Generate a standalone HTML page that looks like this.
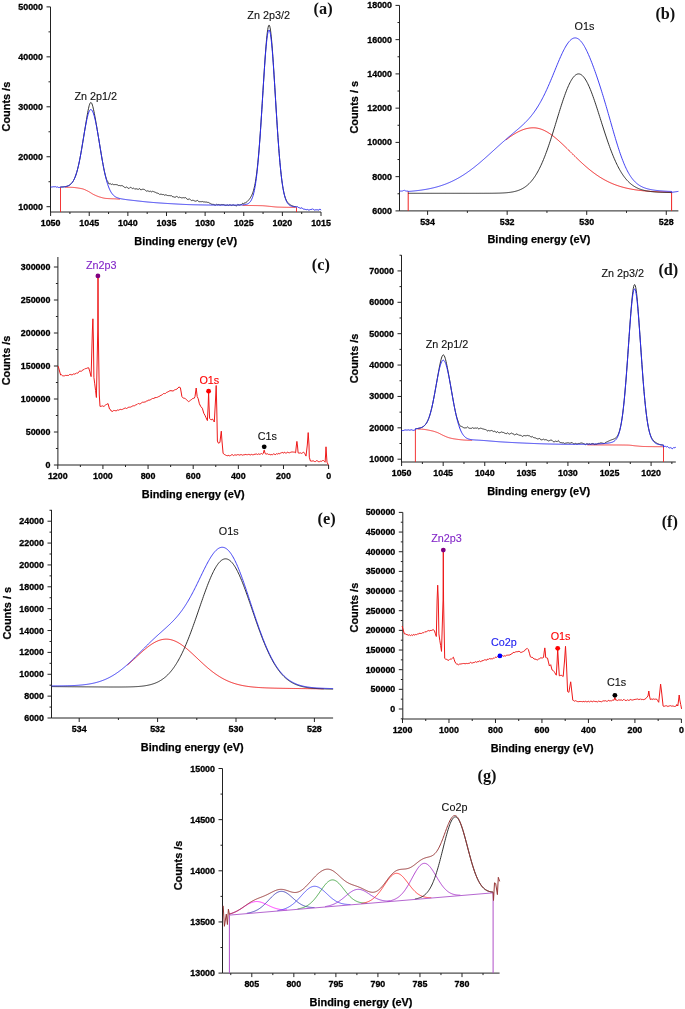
<!DOCTYPE html>
<html><head><meta charset="utf-8"><style>
html,body{margin:0;padding:0;background:#fff;}
svg{display:block;filter:blur(0.3px);}
.tk{font-family:"Liberation Sans",sans-serif;font-weight:bold;font-size:8.9px;fill:#000;stroke:#000;stroke-width:0.3px;}
.ti{font-family:"Liberation Sans",sans-serif;font-weight:bold;font-size:10.9px;fill:#000;stroke:#000;stroke-width:0.25px;}
.pk{font-family:"Liberation Sans",sans-serif;font-size:10.8px;fill:#111;stroke:#111;stroke-width:0.12px;}
.pl{font-family:"Liberation Serif",serif;font-weight:bold;font-size:16.3px;fill:#111;}
</style></head><body>
<svg width="685" height="1009" viewBox="0 0 685 1009">
<rect width="685" height="1009" fill="#fff"/>
<path d="M50.5,6.9 V212 H321" stroke="#222" stroke-width="1" fill="none"/>
<path d="M50.60,212 V216 M89.23,212 V216 M127.86,212 V216 M166.49,212 V216 M205.12,212 V216 M243.75,212 V216 M282.38,212 V216 M321.01,212 V216 M69.92,212 V214 M108.55,212 V214 M147.18,212 V214 M185.81,212 V214 M224.44,212 V214 M263.06,212 V214 M301.69,212 V214 M46.5,206.70 H50.5 M46.5,156.75 H50.5 M46.5,106.80 H50.5 M46.5,56.85 H50.5 M46.5,6.90 H50.5 M48.5,181.72 H50.5 M48.5,131.77 H50.5 M48.5,81.82 H50.5 M48.5,31.87 H50.5" stroke="#222" stroke-width="1" fill="none"/>
<text x="50.60" y="226" class="tk" text-anchor="middle">1050</text>
<text x="89.23" y="226" class="tk" text-anchor="middle">1045</text>
<text x="127.86" y="226" class="tk" text-anchor="middle">1040</text>
<text x="166.49" y="226" class="tk" text-anchor="middle">1035</text>
<text x="205.12" y="226" class="tk" text-anchor="middle">1030</text>
<text x="243.75" y="226" class="tk" text-anchor="middle">1025</text>
<text x="282.38" y="226" class="tk" text-anchor="middle">1020</text>
<text x="321.01" y="226" class="tk" text-anchor="middle">1015</text>
<text x="43.00" y="209.70" class="tk" text-anchor="end">10000</text>
<text x="43.00" y="159.75" class="tk" text-anchor="end">20000</text>
<text x="43.00" y="109.80" class="tk" text-anchor="end">30000</text>
<text x="43.00" y="59.85" class="tk" text-anchor="end">40000</text>
<text x="43.00" y="9.90" class="tk" text-anchor="end">50000</text>
<text x="185.75" y="244.5" class="ti" text-anchor="middle">Binding energy (eV)</text>
<text transform="translate(9.9,106.6) rotate(-90)" x="0" y="0" class="ti" text-anchor="middle">Counts /s</text>
<path d="M65.23,187.30 L65.62,187.30 L66.02,187.30 L66.41,187.30 L66.80,187.30 L67.20,187.30 L67.59,187.30 L67.99,187.30 L68.38,187.30 L68.77,187.30 L69.17,187.30 L69.56,187.30 L69.96,187.30 L70.35,187.30 L70.74,187.31 L71.14,187.32 L71.53,187.33 L71.93,187.35 L72.32,187.37 L72.71,187.39 L73.11,187.42 L73.50,187.45 L73.90,187.48 L74.29,187.52 L74.68,187.56 L75.08,187.61 L75.47,187.65 L75.87,187.70 L76.26,187.75 L76.65,187.80 L77.05,187.86 L77.44,187.92 L77.84,187.98 L78.23,188.04 L78.62,188.11 L79.02,188.17 L79.41,188.24 L79.81,188.31 L80.20,188.38 L80.59,188.45 L80.99,188.53 L81.38,188.60 L81.78,188.68 L82.17,188.76 L82.56,188.85 L82.96,188.97 L83.35,189.10 L83.75,189.24 L84.14,189.39 L84.53,189.55 L84.93,189.72 L85.32,189.90 L85.72,190.09 L86.11,190.28 L86.50,190.47 L86.90,190.66 L87.29,190.85 L87.69,191.04 L88.08,191.24 L88.47,191.44 L88.87,191.66 L89.26,191.89 L89.66,192.13 L90.05,192.38 L90.44,192.62 L90.84,192.87 L91.23,193.12 L91.63,193.37 L92.02,193.61 L92.41,193.85 L92.81,194.08 L93.20,194.30 L93.60,194.50 L93.99,194.69 L94.38,194.88 L94.78,195.06 L95.17,195.24 L95.57,195.42 L95.96,195.60 L96.35,195.77 L96.75,195.93 L97.14,196.09 L97.54,196.25 L97.93,196.40 L98.32,196.55 L98.72,196.69 L99.11,196.82 L99.51,196.94 L99.90,197.06 L100.29,197.18 L100.69,197.29 L101.08,197.41 L101.47,197.52 L101.87,197.63 L102.26,197.74 L102.66,197.84 L103.05,197.94 L103.44,198.03 L103.84,198.12 L104.23,198.20 L104.63,198.26 L105.02,198.32 L105.41,198.37 L105.81,198.41 L106.20,198.44 L106.60,198.47 L106.99,198.50 L107.38,198.53 L107.78,198.55 L108.17,198.58 L108.57,198.60 L108.96,198.62 L109.35,198.64 L109.75,198.66 L110.14,198.67 L110.54,198.69 L110.93,198.71 L111.32,198.72 L111.72,198.74 L112.11,198.75 L112.51,198.76 L112.90,198.78 L113.29,198.79 L113.69,198.81 L114.08,198.82 L114.48,198.84 L114.87,198.85 L115.26,198.87 L115.66,198.89 L116.05,198.91 L116.45,198.93 L116.84,198.95 L117.23,198.98 L117.63,199.00 L118.02,199.03 L118.42,199.06 L118.81,199.09 L119.20,199.12 L119.60,199.15 L119.99,199.19" stroke="#f02020" stroke-width="0.9" fill="none" stroke-linejoin="round"/>
<path d="M242.52,205.45 L242.92,205.45 L243.31,205.46 L243.71,205.46 L244.10,205.46 L244.49,205.46 L244.89,205.46 L245.28,205.47 L245.68,205.47 L246.07,205.47 L246.46,205.47 L246.86,205.48 L247.25,205.48 L247.65,205.48 L248.04,205.48 L248.43,205.49 L248.83,205.49 L249.22,205.49 L249.62,205.50 L250.01,205.50 L250.40,205.50 L250.80,205.51 L251.19,205.51 L251.59,205.51 L251.98,205.52 L252.37,205.52 L252.77,205.53 L253.16,205.53 L253.56,205.54 L253.95,205.54 L254.34,205.55 L254.74,205.55 L255.13,205.56 L255.53,205.56 L255.92,205.57 L256.31,205.57 L256.71,205.58 L257.10,205.59 L257.49,205.59 L257.89,205.60 L258.28,205.61 L258.68,205.62 L259.07,205.63 L259.46,205.63 L259.86,205.64 L260.25,205.65 L260.65,205.66 L261.04,205.67 L261.43,205.68 L261.83,205.70 L262.22,205.71 L262.62,205.72 L263.01,205.74 L263.40,205.77 L263.80,205.79 L264.19,205.82 L264.59,205.86 L264.98,205.89 L265.37,205.93 L265.77,205.97 L266.16,206.01 L266.56,206.05 L266.95,206.09 L267.34,206.13 L267.74,206.18 L268.13,206.22 L268.53,206.26 L268.92,206.30 L269.31,206.34 L269.71,206.37 L270.10,206.41 L270.50,206.45 L270.89,206.48 L271.28,206.52 L271.68,206.56 L272.07,206.60 L272.47,206.65 L272.86,206.69 L273.25,206.73 L273.65,206.77 L274.04,206.81 L274.44,206.85 L274.83,206.89 L275.22,206.93 L275.62,206.96 L276.01,206.99 L276.41,207.02 L276.80,207.04 L277.19,207.07 L277.59,207.09 L277.98,207.10 L278.38,207.11 L278.77,207.12 L279.16,207.13 L279.56,207.15 L279.95,207.16 L280.35,207.17 L280.74,207.18 L281.13,207.19 L281.53,207.20 L281.92,207.21 L282.32,207.22 L282.71,207.23 L283.10,207.24 L283.50,207.25 L283.89,207.25 L284.29,207.26 L284.68,207.27 L285.07,207.28 L285.47,207.29 L285.86,207.29 L286.26,207.30 L286.65,207.31 L287.04,207.32 L287.44,207.32 L287.83,207.33 L288.23,207.34 L288.62,207.34 L289.01,207.35 L289.41,207.35 L289.80,207.36 L290.20,207.36 L290.59,207.37 L290.98,207.37 L291.38,207.37 L291.77,207.38 L292.17,207.38 L292.56,207.38 L292.95,207.39 L293.35,207.39 L293.74,207.39 L294.14,207.39 L294.53,207.40 L294.92,207.40 L295.32,207.40" stroke="#f02020" stroke-width="0.9" fill="none" stroke-linejoin="round"/>
<path d="M60.50,212.00 L60.50,187.30" stroke="#f02020" stroke-width="0.9" fill="none" stroke-linejoin="round"/>
<path d="M296.50,212.00 L296.50,207.40" stroke="#f02020" stroke-width="0.9" fill="none" stroke-linejoin="round"/>
<path d="M60.50,187.04 L60.89,187.03 L61.29,187.01 L61.68,186.99 L62.08,186.97 L62.47,186.95 L62.86,186.92 L63.26,186.89 L63.65,186.86 L64.05,186.82 L64.44,186.77 L64.83,186.72 L65.23,186.66 L65.62,186.59 L66.02,186.51 L66.41,186.42 L66.80,186.31 L67.20,186.19 L67.59,186.06 L67.99,185.91 L68.38,185.73 L68.77,185.54 L69.17,185.32 L69.56,185.07 L69.96,184.79 L70.35,184.48 L70.74,184.13 L71.14,183.75 L71.53,183.33 L71.93,182.87 L72.32,182.36 L72.71,181.80 L73.11,181.18 L73.50,180.51 L73.90,179.77 L74.29,178.97 L74.68,178.09 L75.08,177.15 L75.47,176.12 L75.87,175.02 L76.26,173.83 L76.65,172.56 L77.05,171.20 L77.44,169.75 L77.84,168.21 L78.23,166.59 L78.62,164.87 L79.02,163.07 L79.41,161.18 L79.81,159.21 L80.20,157.16 L80.59,155.04 L80.99,152.85 L81.38,150.59 L81.78,148.28 L82.17,145.92 L82.56,143.54 L82.96,141.13 L83.35,138.72 L83.75,136.29 L84.14,133.86 L84.53,131.44 L84.93,129.01 L85.32,126.60 L85.72,124.19 L86.11,121.81 L86.50,119.45 L86.90,117.12 L87.29,114.85 L87.69,112.65 L88.08,110.57 L88.47,108.64 L88.87,106.91 L89.26,105.41 L89.66,104.19 L90.05,103.28 L90.44,102.71 L90.84,102.51 L91.23,102.67 L91.63,103.18 L92.02,104.01 L92.41,105.12 L92.81,106.49 L93.20,108.06 L93.60,109.81 L93.99,111.69 L94.38,113.69 L94.78,115.77 L95.17,117.92 L95.57,120.13 L95.96,122.37 L96.35,124.64 L96.75,126.94 L97.14,129.27 L97.54,131.63 L97.93,134.01 L98.32,136.40 L98.72,138.81 L99.11,141.23 L99.51,143.66 L99.90,146.07 L100.29,148.49 L100.69,150.89 L101.08,153.27 L101.47,155.62 L101.87,157.93 L102.26,160.20 L102.66,162.41 L103.05,164.57 L103.44,166.67 L103.84,168.69 L104.23,170.63 L104.63,172.41 L105.02,174.04 L105.41,175.55 L105.81,176.95 L106.20,178.27 L106.60,179.53 L106.99,180.42 L107.38,181.05 L107.78,181.61 L108.17,182.51 L108.57,183.39 L108.96,183.99 L109.35,183.84 L109.75,183.76 L110.14,183.49 L110.54,183.86 L110.93,184.18 L111.32,184.46 L111.72,184.32 L112.11,184.02 L112.51,184.04 L112.90,184.35 L113.29,184.52 L113.69,184.65 L114.08,184.61 L114.48,184.57 L114.87,184.76 L115.26,184.69 L115.66,184.54 L116.05,184.59 L116.45,184.60 L116.84,184.80 L117.23,184.74 L117.63,185.02 L118.02,185.23 L118.42,185.49 L118.81,185.59 L119.20,185.52 L119.60,185.52 L119.99,185.77 L120.39,185.76 L120.78,185.78 L121.17,185.78 L121.57,185.58 L121.96,185.41 L122.36,185.70 L122.75,185.90 L123.14,186.12 L123.54,186.51 L123.93,186.97 L124.33,187.21 L124.72,187.40 L125.11,187.48 L125.51,187.63 L125.90,187.36 L126.30,187.11 L126.69,186.85 L127.08,187.30 L127.48,187.71 L127.87,188.02 L128.27,188.26 L128.66,188.39 L129.05,188.40 L129.45,187.97 L129.84,187.68 L130.24,187.40 L130.63,187.47 L131.02,187.68 L131.42,187.74 L131.81,188.14 L132.21,188.27 L132.60,188.66 L132.99,188.58 L133.39,188.27 L133.78,188.13 L134.18,188.47 L134.57,188.83 L134.96,189.25 L135.36,188.96 L135.75,188.75 L136.15,188.62 L136.54,188.87 L136.93,189.06 L137.33,189.19 L137.72,189.19 L138.12,189.35 L138.51,189.26 L138.90,189.07 L139.30,188.72 L139.69,188.58 L140.09,189.19 L140.48,189.47 L140.87,190.01 L141.27,189.85 L141.66,189.50 L142.06,189.38 L142.45,189.27 L142.84,189.31 L143.24,189.29 L143.63,189.30 L144.03,189.39 L144.42,189.52 L144.81,189.79 L145.21,190.14 L145.60,190.51 L146.00,190.84 L146.39,191.14 L146.78,191.11 L147.18,191.04 L147.57,190.80 L147.97,190.69 L148.36,191.05 L148.75,191.33 L149.15,191.70 L149.54,191.42 L149.94,191.26 L150.33,191.13 L150.72,191.44 L151.12,191.62 L151.51,191.92 L151.91,191.69 L152.30,191.47 L152.69,191.06 L153.09,191.23 L153.48,191.62 L153.88,191.87 L154.27,191.99 L154.66,191.98 L155.06,192.03 L155.45,192.38 L155.85,192.57 L156.24,192.86 L156.63,192.91 L157.03,193.01 L157.42,193.14 L157.82,193.26 L158.21,193.46 L158.60,193.57 L159.00,193.89 L159.39,194.25 L159.79,194.51 L160.18,194.33 L160.57,194.22 L160.97,194.07 L161.36,194.24 L161.76,194.38 L162.15,194.50 L162.54,194.57 L162.94,194.49 L163.33,194.50 L163.73,194.62 L164.12,194.92 L164.51,195.22 L164.91,195.16 L165.30,195.00 L165.70,194.78 L166.09,194.89 L166.48,195.07 L166.88,195.28 L167.27,195.43 L167.67,195.54 L168.06,195.63 L168.45,195.62 L168.85,195.51 L169.24,195.53 L169.64,195.63 L170.03,195.61 L170.42,195.75 L170.82,195.74 L171.21,195.82 L171.61,195.68 L172.00,196.07 L172.39,196.40 L172.79,196.95 L173.18,196.88 L173.58,196.80 L173.97,196.89 L174.36,197.14 L174.76,197.25 L175.15,197.30 L175.55,197.12 L175.94,196.74 L176.33,196.33 L176.73,196.44 L177.12,196.56 L177.52,196.84 L177.91,197.12 L178.30,197.51 L178.70,197.73 L179.09,197.49 L179.48,197.21 L179.88,196.96 L180.27,197.34 L180.67,197.62 L181.06,197.91 L181.45,197.83 L181.85,197.82 L182.24,197.81 L182.64,197.78 L183.03,197.74 L183.42,197.66 L183.82,197.69 L184.21,197.74 L184.61,197.88 L185.00,197.71 L185.39,197.65 L185.79,197.70 L186.18,198.08 L186.58,198.58 L186.97,199.16 L187.36,199.32 L187.76,199.49 L188.15,199.62 L188.55,199.26 L188.94,198.99 L189.33,198.81 L189.73,199.19 L190.12,199.46 L190.52,199.88 L190.91,200.13 L191.30,200.37 L191.70,200.64 L192.09,200.51 L192.49,200.33 L192.88,200.08 L193.27,200.27 L193.67,200.47 L194.06,200.65 L194.46,200.86 L194.85,200.99 L195.24,201.21 L195.64,201.13 L196.03,201.08 L196.43,200.92 L196.82,200.65 L197.21,200.49 L197.61,200.38 L198.00,200.86 L198.40,201.34 L198.79,201.72 L199.18,201.75 L199.58,201.68 L199.97,201.78 L200.37,201.65 L200.76,201.69 L201.15,201.66 L201.55,201.68 L201.94,201.68 L202.34,201.50 L202.73,201.63 L203.12,201.75 L203.52,201.93 L203.91,201.93 L204.31,201.92 L204.70,201.95 L205.09,201.99 L205.49,202.12 L205.88,201.94 L206.28,202.07 L206.67,202.09 L207.06,202.29 L207.46,202.39 L207.85,202.33 L208.25,202.33 L208.64,202.54 L209.03,202.81 L209.43,203.05 L209.82,203.32 L210.22,203.47 L210.61,203.38 L211.00,203.78 L211.40,204.12 L211.79,204.35 L212.19,204.33 L212.58,204.37 L212.97,204.39 L213.37,204.42 L213.76,204.41 L214.16,204.49 L214.55,204.84 L214.94,205.17 L215.34,205.25 L215.73,204.87 L216.13,204.57 L216.52,204.17 L216.91,204.46 L217.31,204.65 L217.70,204.74 L218.10,204.60 L218.49,204.54 L218.88,204.48 L219.28,204.64 L219.67,204.91 L220.07,205.13 L220.46,204.92 L220.85,204.82 L221.25,204.59 L221.64,204.63 L222.04,204.60 L222.43,204.65 L222.82,204.55 L223.22,204.64 L223.61,204.62 L224.01,204.86 L224.40,204.97 L224.79,205.11 L225.19,205.20 L225.58,205.39 L225.98,205.65 L226.37,205.37 L226.76,205.05 L227.16,204.83 L227.55,205.09 L227.95,205.26 L228.34,205.47 L228.73,205.31 L229.13,205.15 L229.52,204.86 L229.92,204.96 L230.31,205.02 L230.70,205.06 L231.10,205.23 L231.49,205.37 L231.89,205.48 L232.28,205.22 L232.67,204.96 L233.07,204.66 L233.46,204.94 L233.86,205.17 L234.25,205.34 L234.64,205.39 L235.04,205.44 L235.43,205.59 L235.83,205.68 L236.22,205.98 L236.61,205.91 L237.01,205.37 L237.40,204.89 L237.80,204.41 L238.19,204.63 L238.58,204.91 L238.98,205.11 L239.37,205.12 L239.77,205.05 L240.16,204.87 L240.55,204.82 L240.95,204.72 L241.34,204.78 L241.74,204.33 L242.13,203.87 L242.52,203.31 L242.92,203.44 L243.31,203.72 L243.71,204.01 L244.10,203.55 L244.49,203.09 L244.89,202.62 L245.28,203.02 L245.68,202.75 L246.07,202.46 L246.46,202.16 L246.86,201.82 L247.25,201.47 L247.65,201.09 L248.04,200.69 L248.43,200.27 L248.83,199.81 L249.22,199.33 L249.62,198.82 L250.01,198.27 L250.40,197.68 L250.80,197.04 L251.19,196.34 L251.59,195.57 L251.98,194.73 L252.37,193.80 L252.77,192.76 L253.16,191.60 L253.56,190.30 L253.95,188.86 L254.34,187.24 L254.74,185.44 L255.13,183.43 L255.53,181.20 L255.92,178.74 L256.31,176.02 L256.71,173.04 L257.10,169.78 L257.49,166.24 L257.89,162.41 L258.28,158.29 L258.68,153.87 L259.07,149.18 L259.46,144.21 L259.86,138.97 L260.25,133.49 L260.65,127.79 L261.04,121.89 L261.43,115.82 L261.83,109.61 L262.22,103.31 L262.62,96.94 L263.01,90.56 L263.40,84.20 L263.80,77.91 L264.19,71.74 L264.59,65.71 L264.98,59.90 L265.37,54.33 L265.77,49.07 L266.16,44.18 L266.56,39.71 L266.95,35.72 L267.34,32.29 L267.74,29.46 L268.13,27.31 L268.53,25.87 L268.92,25.18 L269.31,25.27 L269.71,26.14 L270.10,27.77 L270.50,30.14 L270.89,33.19 L271.28,36.88 L271.68,41.13 L272.07,45.87 L272.47,51.04 L272.86,56.56 L273.25,62.38 L273.65,68.44 L274.04,74.68 L274.44,81.05 L274.83,87.51 L275.22,94.01 L275.62,100.51 L276.01,106.98 L276.41,113.37 L276.80,119.64 L277.19,125.77 L277.59,131.73 L277.98,137.49 L278.38,143.02 L278.77,148.31 L279.16,153.35 L279.56,158.12 L279.95,162.62 L280.35,166.83 L280.74,170.77 L281.13,174.42 L281.53,177.79 L281.92,180.89 L282.32,183.73 L282.71,186.31 L283.10,188.64 L283.50,190.75 L283.89,192.63 L284.29,194.31 L284.68,195.80 L285.07,197.11 L285.47,198.27 L285.86,199.27 L286.26,200.15 L286.65,200.91 L287.04,201.57 L287.44,202.14 L287.83,202.64 L288.23,203.08 L288.62,203.47 L289.01,203.82 L289.41,204.14 L289.80,204.43 L290.20,204.70 L290.59,204.95 L290.98,205.18 L291.38,205.39 L291.77,205.59 L292.17,205.77 L292.56,205.94 L292.95,206.09 L293.35,206.22 L293.74,206.34 L294.14,206.44 L294.53,206.53 L294.92,206.61 L295.32,206.67 L295.71,206.73 L296.11,206.77 L296.50,206.81" stroke="#1c1c1c" stroke-width="0.9" fill="none" stroke-linejoin="round"/>
<path d="M50.50,186.99 L51.03,186.85 L51.55,187.06 L52.08,186.90 L52.61,186.89 L53.13,186.88 L53.66,186.69 L54.18,186.90 L54.71,186.66 L55.24,186.69 L55.76,186.68 L56.29,187.11 L56.82,187.13 L57.34,187.02 L57.87,186.90 L58.39,187.37 L58.92,187.57 L59.45,187.44 L59.97,187.46 L60.50,187.15 L60.50,187.04 L60.89,187.03 L61.29,187.01 L61.68,186.99 L62.08,186.97 L62.47,186.95 L62.86,186.92 L63.26,186.89 L63.65,186.86 L64.05,186.82 L64.44,186.77 L64.83,186.72 L65.23,186.66 L65.62,186.59 L66.02,186.51 L66.41,186.42 L66.80,186.31 L67.20,186.19 L67.59,186.06 L67.99,185.91 L68.38,185.73 L68.77,185.54 L69.17,185.32 L69.56,185.07 L69.96,184.79 L70.35,184.48 L70.74,184.13 L71.14,183.75 L71.53,183.33 L71.93,182.87 L72.32,182.36 L72.71,181.80 L73.11,181.18 L73.50,180.51 L73.90,179.77 L74.29,178.97 L74.68,178.09 L75.08,177.15 L75.47,176.12 L75.87,175.02 L76.26,173.83 L76.65,172.56 L77.05,171.20 L77.44,169.75 L77.84,168.21 L78.23,166.59 L78.62,164.87 L79.02,163.07 L79.41,161.18 L79.81,159.21 L80.20,157.16 L80.59,155.04 L80.99,152.85 L81.38,150.60 L81.78,148.29 L82.17,145.95 L82.56,143.58 L82.96,141.20 L83.35,138.82 L83.75,136.45 L84.14,134.10 L84.53,131.79 L84.93,129.51 L85.32,127.30 L85.72,125.15 L86.11,123.09 L86.50,121.12 L86.90,119.26 L87.29,117.52 L87.69,115.91 L88.08,114.45 L88.47,113.17 L88.87,112.06 L89.26,111.15 L89.66,110.43 L90.05,109.92 L90.44,109.61 L90.84,109.51 L91.23,109.61 L91.63,109.92 L92.02,110.39 L92.41,111.03 L92.81,111.84 L93.20,112.79 L93.60,113.90 L93.99,115.15 L94.38,116.54 L94.78,118.08 L95.17,119.74 L95.57,121.53 L95.96,123.42 L96.35,125.42 L96.75,127.50 L97.14,129.67 L97.54,131.90 L97.93,134.19 L98.32,136.52 L98.72,138.89 L99.11,141.28 L99.51,143.68 L99.90,146.09 L100.29,148.50 L100.69,150.89 L101.08,153.27 L101.47,155.62 L101.87,157.93 L102.26,160.20 L102.66,162.41 L103.05,164.57 L103.44,166.67 L103.84,168.69 L104.23,170.64 L104.63,172.52 L105.02,174.31 L105.41,176.02 L105.81,177.64 L106.20,179.18 L106.60,180.65 L106.99,182.04 L107.38,183.35 L107.78,184.58 L108.17,185.74 L108.57,186.82 L108.96,187.84 L109.35,188.79 L109.75,189.67 L110.14,190.48 L110.54,191.24 L110.93,191.94 L111.32,192.59 L111.72,193.18 L112.11,193.73 L112.51,194.23 L112.90,194.69 L113.29,195.11 L113.69,195.49 L114.08,195.84 L114.48,196.15 L114.87,196.44 L115.26,196.70 L115.66,196.94 L116.05,197.16 L116.45,197.36 L116.84,197.54 L117.23,197.71 L117.63,197.86 L118.02,198.00 L118.42,198.13 L118.81,198.24 L119.20,198.35 L119.60,198.46 L119.99,198.55 L120.39,198.64 L120.78,198.73 L121.17,198.81 L121.57,198.88 L121.96,198.95 L122.36,199.02 L122.75,199.09 L123.14,199.15 L123.54,199.22 L123.93,199.28 L124.33,199.34 L124.72,199.39 L125.11,199.45 L125.51,199.50 L125.90,199.56 L126.30,199.61 L126.69,199.66 L127.08,199.72 L127.48,199.77 L127.87,199.82 L128.27,199.87 L128.66,199.91 L129.05,199.96 L129.45,200.01 L129.84,200.05 L130.24,200.10 L130.63,200.14 L131.02,200.19 L131.42,200.23 L131.81,200.27 L132.21,200.32 L132.60,200.36 L132.99,200.41 L133.39,200.45 L133.78,200.49 L134.18,200.54 L134.57,200.58 L134.96,200.63 L135.36,200.67 L135.75,200.72 L136.15,200.76 L136.54,200.81 L136.93,200.85 L137.33,200.90 L137.72,200.94 L138.12,200.99 L138.51,201.03 L138.90,201.08 L139.30,201.12 L139.69,201.17 L140.09,201.21 L140.48,201.25 L140.87,201.30 L141.27,201.34 L141.66,201.38 L142.06,201.43 L142.45,201.47 L142.84,201.51 L143.24,201.56 L143.63,201.60 L144.03,201.64 L144.42,201.68 L144.81,201.72 L145.21,201.76 L145.60,201.80 L146.00,201.84 L146.39,201.88 L146.78,201.92 L147.18,201.96 L147.57,202.00 L147.97,202.04 L148.36,202.07 L148.75,202.11 L149.15,202.15 L149.54,202.18 L149.94,202.22 L150.33,202.25 L150.72,202.28 L151.12,202.32 L151.51,202.35 L151.91,202.38 L152.30,202.41 L152.69,202.45 L153.09,202.48 L153.48,202.51 L153.88,202.54 L154.27,202.57 L154.66,202.60 L155.06,202.63 L155.45,202.66 L155.85,202.69 L156.24,202.72 L156.63,202.75 L157.03,202.78 L157.42,202.81 L157.82,202.84 L158.21,202.87 L158.60,202.90 L159.00,202.93 L159.39,202.96 L159.79,202.98 L160.18,203.01 L160.57,203.04 L160.97,203.07 L161.36,203.09 L161.76,203.12 L162.15,203.15 L162.54,203.17 L162.94,203.20 L163.33,203.23 L163.73,203.25 L164.12,203.28 L164.51,203.30 L164.91,203.33 L165.30,203.35 L165.70,203.38 L166.09,203.40 L166.48,203.43 L166.88,203.45 L167.27,203.48 L167.67,203.50 L168.06,203.53 L168.45,203.55 L168.85,203.57 L169.24,203.60 L169.64,203.62 L170.03,203.64 L170.42,203.67 L170.82,203.69 L171.21,203.71 L171.61,203.73 L172.00,203.76 L172.39,203.78 L172.79,203.80 L173.18,203.82 L173.58,203.85 L173.97,203.87 L174.36,203.89 L174.76,203.92 L175.15,203.94 L175.55,203.96 L175.94,203.98 L176.33,204.01 L176.73,204.03 L177.12,204.05 L177.52,204.07 L177.91,204.09 L178.30,204.12 L178.70,204.14 L179.09,204.16 L179.48,204.18 L179.88,204.20 L180.27,204.22 L180.67,204.25 L181.06,204.27 L181.45,204.29 L181.85,204.31 L182.24,204.33 L182.64,204.35 L183.03,204.37 L183.42,204.39 L183.82,204.40 L184.21,204.42 L184.61,204.44 L185.00,204.46 L185.39,204.48 L185.79,204.49 L186.18,204.51 L186.58,204.53 L186.97,204.54 L187.36,204.56 L187.76,204.58 L188.15,204.59 L188.55,204.61 L188.94,204.62 L189.33,204.63 L189.73,204.65 L190.12,204.66 L190.52,204.67 L190.91,204.68 L191.30,204.69 L191.70,204.71 L192.09,204.72 L192.49,204.73 L192.88,204.74 L193.27,204.75 L193.67,204.76 L194.06,204.77 L194.46,204.77 L194.85,204.78 L195.24,204.79 L195.64,204.80 L196.03,204.81 L196.43,204.82 L196.82,204.83 L197.21,204.84 L197.61,204.84 L198.00,204.85 L198.40,204.86 L198.79,204.87 L199.18,204.88 L199.58,204.88 L199.97,204.89 L200.37,204.90 L200.76,204.90 L201.15,204.91 L201.55,204.92 L201.94,204.93 L202.34,204.93 L202.73,204.94 L203.12,204.94 L203.52,204.95 L203.91,204.96 L204.31,204.96 L204.70,204.97 L205.09,204.97 L205.49,204.98 L205.88,204.98 L206.28,204.99 L206.67,205.00 L207.06,205.00 L207.46,205.00 L207.85,205.01 L208.25,205.01 L208.64,205.02 L209.03,205.02 L209.43,205.03 L209.82,205.03 L210.22,205.04 L210.61,205.04 L211.00,205.04 L211.40,205.05 L211.79,205.05 L212.19,205.06 L212.58,205.06 L212.97,205.06 L213.37,205.07 L213.76,205.07 L214.16,205.07 L214.55,205.07 L214.94,205.08 L215.34,205.08 L215.73,205.08 L216.13,205.09 L216.52,205.09 L216.91,205.09 L217.31,205.09 L217.70,205.09 L218.10,205.10 L218.49,205.10 L218.88,205.10 L219.28,205.10 L219.67,205.10 L220.07,205.11 L220.46,205.11 L220.85,205.11 L221.25,205.11 L221.64,205.11 L222.04,205.11 L222.43,205.11 L222.82,205.11 L223.22,205.11 L223.61,205.11 L224.01,205.12 L224.40,205.12 L224.79,205.12 L225.19,205.12 L225.58,205.12 L225.98,205.11 L226.37,205.11 L226.76,205.11 L227.16,205.11 L227.55,205.11 L227.95,205.11 L228.34,205.11 L228.73,205.11 L229.13,205.11 L229.52,205.11 L229.92,205.10 L230.31,205.10 L230.70,205.10 L231.10,205.10 L231.49,205.09 L231.89,205.09 L232.28,205.09 L232.67,205.09 L233.07,205.08 L233.46,205.08 L233.86,205.07 L234.25,205.07 L234.64,205.06 L235.04,205.06 L235.43,205.05 L235.83,205.05 L236.22,205.04 L236.61,205.04 L237.01,205.03 L237.40,205.02 L237.80,205.01 L238.19,205.00 L238.58,205.00 L238.98,204.99 L239.37,204.98 L239.77,204.96 L240.16,204.95 L240.55,204.94 L240.95,204.92 L241.34,204.91 L241.74,204.89 L242.13,204.87 L242.52,204.85 L242.92,204.82 L243.31,204.79 L243.71,204.76 L244.10,204.72 L244.49,204.67 L244.89,204.62 L245.28,204.56 L245.68,204.48 L246.07,204.40 L246.46,204.29 L246.86,204.17 L247.25,204.03 L247.65,203.86 L248.04,203.67 L248.43,203.44 L248.83,203.17 L249.22,202.85 L249.62,202.48 L250.01,202.06 L250.40,201.56 L250.80,200.99 L251.19,200.33 L251.59,199.57 L251.98,198.71 L252.37,197.72 L252.77,196.60 L253.16,195.33 L253.56,193.91 L253.95,192.31 L254.34,190.52 L254.74,188.53 L255.13,186.32 L255.53,183.88 L255.92,181.21 L256.31,178.28 L256.71,175.08 L257.10,171.62 L257.49,167.88 L257.89,163.87 L258.28,159.57 L258.68,155.00 L259.07,150.15 L259.46,145.04 L259.86,139.69 L260.25,134.10 L260.65,128.30 L261.04,122.32 L261.43,116.19 L261.83,109.94 L262.22,103.60 L262.62,97.23 L263.01,90.87 L263.40,84.57 L263.80,78.36 L264.19,72.32 L264.59,66.48 L264.98,60.91 L265.37,55.65 L265.77,50.76 L266.16,46.29 L266.56,42.27 L266.95,38.77 L267.34,35.81 L267.74,33.43 L268.13,31.66 L268.53,30.52 L268.92,30.03 L269.31,30.18 L269.71,30.97 L270.10,32.41 L270.50,34.47 L270.89,37.13 L271.28,40.36 L271.68,44.13 L272.07,48.38 L272.47,53.09 L272.86,58.19 L273.25,63.64 L273.65,69.39 L274.04,75.37 L274.44,81.55 L274.83,87.85 L275.22,94.24 L275.62,100.67 L276.01,107.08 L276.41,113.43 L276.80,119.68 L277.19,125.80 L277.59,131.74 L277.98,137.49 L278.38,143.03 L278.77,148.32 L279.16,153.36 L279.56,158.13 L279.95,162.63 L280.35,166.85 L280.74,170.79 L281.13,174.45 L281.53,177.83 L281.92,180.95 L282.32,183.81 L282.71,186.42 L283.10,188.79 L283.50,190.93 L283.89,192.87 L284.29,194.60 L284.68,196.16 L285.07,197.54 L285.47,198.77 L285.86,199.85 L286.26,200.81 L286.65,201.64 L287.04,202.38 L287.44,203.01 L287.83,203.57 L288.23,204.05 L288.62,204.47 L289.01,204.82 L289.41,205.13 L289.80,205.40 L290.20,205.62 L290.59,205.81 L290.98,205.98 L291.38,206.12 L291.77,206.24 L292.17,206.34 L292.56,206.43 L292.95,206.51 L293.35,206.57 L293.74,206.63 L294.14,206.67 L294.53,206.71 L294.92,206.75 L295.32,206.78 L295.71,206.81 L296.11,206.83 L296.50,206.85 L296.50,207.21 L297.00,206.67 L297.50,206.74 L298.00,207.35 L298.50,207.49 L299.00,207.83 L299.50,207.83 L300.00,208.13 L300.50,208.27 L301.00,207.99 L301.50,207.92 L302.00,207.81 L302.50,208.46 L303.00,208.89 L303.50,209.09 L304.00,209.11 L304.50,209.21 L305.00,209.25 L305.50,209.46 L306.00,209.68 L306.50,209.66 L307.00,209.50 L307.50,209.37 L308.00,209.87 L308.50,210.00 L309.00,209.81 L309.50,209.89 L310.00,209.41 L310.50,209.51 L311.00,209.34 L311.50,209.36 L312.00,209.42 L312.50,208.85 L313.00,209.26 L313.50,209.48 L314.00,209.90 L314.50,210.07 L315.00,209.71 L315.50,209.81 L316.00,209.58 L316.50,209.79 L317.00,209.60 L317.50,209.80 L318.00,210.09 L318.50,210.10 L319.00,209.96 L319.50,209.26 L320.00,209.44 L320.50,209.43 L321.00,210.17" stroke="#2b2bf0" stroke-width="1.0" fill="none" stroke-linejoin="round"/>
<text x="74.5" y="100.1" class="pk">Zn 2p1/2</text>
<text x="247.3" y="18.8" class="pk">Zn 2p3/2</text>
<text x="313.6" y="13.6" class="pl">(a)</text>
<path d="M399.5,5.4 V210.9 H678.4" stroke="#222" stroke-width="1" fill="none"/>
<path d="M427.60,210.9 V214.9 M507.16,210.9 V214.9 M586.72,210.9 V214.9 M666.28,210.9 V214.9 M467.38,210.9 V212.9 M546.94,210.9 V212.9 M626.50,210.9 V212.9 M395.5,210.90 H399.5 M395.5,176.65 H399.5 M395.5,142.40 H399.5 M395.5,108.15 H399.5 M395.5,73.90 H399.5 M395.5,39.65 H399.5 M395.5,5.40 H399.5 M397.5,193.78 H399.5 M397.5,159.53 H399.5 M397.5,125.28 H399.5 M397.5,91.02 H399.5 M397.5,56.78 H399.5 M397.5,22.52 H399.5" stroke="#222" stroke-width="1" fill="none"/>
<text x="427.60" y="224.9" class="tk" text-anchor="middle">534</text>
<text x="507.16" y="224.9" class="tk" text-anchor="middle">532</text>
<text x="586.72" y="224.9" class="tk" text-anchor="middle">530</text>
<text x="666.28" y="224.9" class="tk" text-anchor="middle">528</text>
<text x="392.00" y="213.90" class="tk" text-anchor="end">6000</text>
<text x="392.00" y="179.65" class="tk" text-anchor="end">8000</text>
<text x="392.00" y="145.40" class="tk" text-anchor="end">10000</text>
<text x="392.00" y="111.15" class="tk" text-anchor="end">12000</text>
<text x="392.00" y="76.90" class="tk" text-anchor="end">14000</text>
<text x="392.00" y="42.65" class="tk" text-anchor="end">16000</text>
<text x="392.00" y="8.40" class="tk" text-anchor="end">18000</text>
<text x="538.95" y="243.4" class="ti" text-anchor="middle">Binding energy (eV)</text>
<text transform="translate(358.3,107.3) rotate(-90)" x="0" y="0" class="ti" text-anchor="middle">Counts / s</text>
<path d="M505.90,139.95 L506.56,139.44 L507.22,138.93 L507.88,138.43 L508.54,137.93 L509.20,137.45 L509.86,136.97 L510.52,136.50 L511.18,136.04 L511.84,135.59 L512.50,135.15 L513.16,134.72 L513.82,134.30 L514.48,133.89 L515.14,133.49 L515.80,133.11 L516.46,132.73 L517.12,132.37 L517.78,132.02 L518.45,131.68 L519.11,131.35 L519.77,131.04 L520.43,130.74 L521.09,130.45 L521.75,130.18 L522.41,129.92 L523.07,129.68 L523.73,129.45 L524.39,129.23 L525.05,129.03 L525.71,128.84 L526.37,128.67 L527.03,128.51 L527.69,128.37 L528.35,128.25 L529.01,128.13 L529.67,128.04 L530.33,127.96 L530.99,127.90 L531.65,127.85 L532.31,127.82 L532.97,127.80 L533.63,127.80 L534.29,127.82 L534.95,127.86 L535.61,127.92 L536.27,128.00 L536.93,128.10 L537.59,128.22 L538.25,128.36 L538.91,128.51 L539.57,128.69 L540.23,128.89 L540.89,129.10 L541.55,129.33 L542.21,129.58 L542.87,129.85 L543.53,130.14 L544.19,130.44 L544.85,130.76 L545.51,131.10 L546.17,131.45 L546.83,131.82 L547.49,132.21 L548.15,132.61 L548.81,133.02 L549.47,133.45 L550.13,133.89 L550.79,134.35 L551.45,134.82 L552.11,135.30 L552.77,135.80 L553.43,136.30 L554.09,136.82 L554.75,137.35 L555.41,137.89 L556.07,138.43 L556.73,138.99 L557.39,139.56 L558.05,140.13 L558.71,140.71 L559.37,141.30 L560.03,141.90 L560.69,142.51 L561.35,143.12 L562.02,143.73 L562.68,144.35 L563.34,144.98 L564.00,145.61 L564.66,146.25 L565.32,146.89 L565.98,147.53 L566.64,148.17 L567.30,148.82 L567.96,149.47 L568.62,150.12 L569.28,150.77 L569.94,151.42 L570.60,152.07 L571.26,152.73 L571.92,153.38 L572.58,154.03 L573.24,154.68 L573.90,155.33 L574.56,155.98 L575.22,156.62 L575.88,157.27 L576.54,157.91 L577.20,158.54 L577.86,159.18 L578.52,159.81 L579.18,160.44 L579.84,161.06 L580.50,161.68 L581.16,162.29 L581.82,162.90 L582.48,163.51 L583.14,164.10 L583.80,164.70 L584.46,165.29 L585.12,165.87 L585.78,166.45 L586.44,167.02 L587.10,167.58 L587.76,168.14 L588.42,168.69 L589.08,169.23 L589.74,169.77 L590.40,170.30 L591.06,170.82 L591.72,171.34 L592.38,171.85 L593.04,172.35 L593.70,172.84 L594.36,173.33 L595.02,173.81 L595.68,174.28 L596.34,174.74 L597.00,175.20 L597.66,175.65 L598.32,176.09 L598.98,176.52 L599.64,176.94 L600.30,177.36 L600.96,177.77 L601.62,178.17 L602.28,178.56 L602.94,178.95 L603.60,179.33 L604.26,179.70 L604.92,180.06 L605.58,180.41 L606.25,180.76 L606.91,181.10 L607.57,181.43 L608.23,181.76 L608.89,182.08 L609.55,182.39 L610.21,182.69 L610.87,182.99 L611.53,183.27 L612.19,183.56 L612.85,183.83 L613.51,184.10 L614.17,184.36 L614.83,184.62 L615.49,184.87 L616.15,185.11 L616.81,185.34 L617.47,185.57 L618.13,185.80 L618.79,186.01 L619.45,186.22 L620.11,186.43 L620.77,186.63 L621.43,186.82 L622.09,187.01 L622.75,187.20 L623.41,187.37 L624.07,187.55 L624.73,187.71 L625.39,187.88 L626.05,188.04 L626.71,188.19 L627.37,188.34 L628.03,188.48 L628.69,188.62 L629.35,188.76 L630.01,188.89 L630.67,189.01 L631.33,189.14 L631.99,189.26 L632.65,189.37 L633.31,189.48 L633.97,189.59 L634.63,189.69 L635.29,189.80 L635.95,189.89 L636.61,189.99 L637.27,190.08 L637.93,190.17 L638.59,190.25 L639.25,190.33 L639.91,190.41 L640.57,190.49 L641.23,190.56 L641.89,190.64 L642.55,190.70 L643.21,190.77 L643.87,190.84 L644.53,190.90 L645.19,190.96 L645.85,191.02 L646.51,191.07 L647.17,191.13 L647.83,191.18 L648.49,191.23 L649.15,191.28 L649.82,191.32 L650.48,191.37 L651.14,191.41 L651.80,191.45 L652.46,191.49 L653.12,191.53 L653.78,191.57 L654.44,191.61 L655.10,191.64 L655.76,191.68 L656.42,191.71 L657.08,191.74 L657.74,191.77 L658.40,191.80 L659.06,191.83 L659.72,191.85 L660.38,191.88 L661.04,191.91 L661.70,191.93 L662.36,191.95 L663.02,191.98 L663.68,192.00 L664.34,192.02 L665.00,192.04 L665.66,192.06 L666.32,192.08 L666.98,192.10 L667.64,192.12 L668.30,192.14 L668.96,192.15 L669.62,192.17 L670.28,192.19 L670.94,192.20 L671.60,192.22" stroke="#f02020" stroke-width="1.0" fill="none" stroke-linejoin="round"/>
<path d="M408.20,210.90 L408.20,191.46" stroke="#f02020" stroke-width="1.0" fill="none" stroke-linejoin="round"/>
<path d="M671.60,210.90 L671.60,192.22" stroke="#f02020" stroke-width="1.0" fill="none" stroke-linejoin="round"/>
<path d="M408.20,193.30 L408.86,193.30 L409.52,193.30 L410.18,193.30 L410.84,193.30 L411.50,193.30 L412.16,193.30 L412.82,193.30 L413.48,193.30 L414.14,193.30 L414.80,193.30 L415.46,193.30 L416.12,193.30 L416.78,193.30 L417.44,193.30 L418.10,193.30 L418.76,193.30 L419.42,193.30 L420.08,193.30 L420.74,193.30 L421.40,193.30 L422.06,193.30 L422.72,193.30 L423.38,193.30 L424.04,193.30 L424.70,193.30 L425.36,193.30 L426.02,193.30 L426.68,193.30 L427.34,193.30 L428.00,193.30 L428.66,193.30 L429.32,193.30 L429.98,193.30 L430.65,193.30 L431.31,193.30 L431.97,193.30 L432.63,193.30 L433.29,193.30 L433.95,193.30 L434.61,193.30 L435.27,193.30 L435.93,193.30 L436.59,193.30 L437.25,193.30 L437.91,193.30 L438.57,193.30 L439.23,193.30 L439.89,193.30 L440.55,193.30 L441.21,193.30 L441.87,193.30 L442.53,193.30 L443.19,193.30 L443.85,193.30 L444.51,193.30 L445.17,193.30 L445.83,193.30 L446.49,193.30 L447.15,193.30 L447.81,193.30 L448.47,193.30 L449.13,193.30 L449.79,193.30 L450.45,193.30 L451.11,193.30 L451.77,193.30 L452.43,193.30 L453.09,193.30 L453.75,193.30 L454.41,193.30 L455.07,193.30 L455.73,193.30 L456.39,193.30 L457.05,193.30 L457.71,193.30 L458.37,193.30 L459.03,193.30 L459.69,193.30 L460.35,193.30 L461.01,193.30 L461.67,193.30 L462.33,193.30 L462.99,193.30 L463.65,193.30 L464.31,193.30 L464.97,193.30 L465.63,193.30 L466.29,193.30 L466.95,193.30 L467.61,193.30 L468.27,193.30 L468.93,193.30 L469.59,193.30 L470.25,193.30 L470.91,193.30 L471.57,193.30 L472.23,193.30 L472.89,193.30 L473.55,193.30 L474.22,193.30 L474.88,193.30 L475.54,193.30 L476.20,193.30 L476.86,193.30 L477.52,193.30 L478.18,193.30 L478.84,193.30 L479.50,193.29 L480.16,193.29 L480.82,193.29 L481.48,193.29 L482.14,193.29 L482.80,193.29 L483.46,193.29 L484.12,193.29 L484.78,193.29 L485.44,193.28 L486.10,193.28 L486.76,193.28 L487.42,193.28 L488.08,193.27 L488.74,193.27 L489.40,193.27 L490.06,193.26 L490.72,193.26 L491.38,193.25 L492.04,193.24 L492.70,193.24 L493.36,193.23 L494.02,193.22 L494.68,193.21 L495.34,193.20 L496.00,193.19 L496.66,193.18 L497.32,193.16 L497.98,193.15 L498.64,193.13 L499.30,193.11 L499.96,193.09 L500.62,193.07 L501.28,193.04 L501.94,193.01 L502.60,192.98 L503.26,192.95 L503.92,192.91 L504.58,192.87 L505.24,192.82 L505.90,192.77 L506.56,192.72 L507.22,192.66 L507.88,192.59 L508.54,192.52 L509.20,192.44 L509.86,192.36 L510.52,192.27 L511.18,192.17 L511.84,192.06 L512.50,191.95 L513.16,191.82 L513.82,191.68 L514.48,191.54 L515.14,191.38 L515.80,191.21 L516.46,191.02 L517.12,190.82 L517.78,190.61 L518.45,190.38 L519.11,190.13 L519.77,189.87 L520.43,189.59 L521.09,189.28 L521.75,188.96 L522.41,188.61 L523.07,188.25 L523.73,187.85 L524.39,187.44 L525.05,186.99 L525.71,186.52 L526.37,186.02 L527.03,185.49 L527.69,184.93 L528.35,184.34 L529.01,183.71 L529.67,183.05 L530.33,182.35 L530.99,181.62 L531.65,180.85 L532.31,180.03 L532.97,179.18 L533.63,178.29 L534.29,177.35 L534.95,176.38 L535.61,175.35 L536.27,174.29 L536.93,173.17 L537.59,172.02 L538.25,170.81 L538.91,169.56 L539.57,168.26 L540.23,166.91 L540.89,165.52 L541.55,164.08 L542.21,162.59 L542.87,161.05 L543.53,159.47 L544.19,157.84 L544.85,156.16 L545.51,154.44 L546.17,152.68 L546.83,150.88 L547.49,149.03 L548.15,147.15 L548.81,145.23 L549.47,143.27 L550.13,141.29 L550.79,139.27 L551.45,137.22 L552.11,135.15 L552.77,133.05 L553.43,130.93 L554.09,128.80 L554.75,126.65 L555.41,124.50 L556.07,122.34 L556.73,120.17 L557.39,118.01 L558.05,115.85 L558.71,113.70 L559.37,111.57 L560.03,109.45 L560.69,107.35 L561.35,105.28 L562.02,103.24 L562.68,101.24 L563.34,99.28 L564.00,97.35 L564.66,95.48 L565.32,93.66 L565.98,91.90 L566.64,90.20 L567.30,88.56 L567.96,86.99 L568.62,85.50 L569.28,84.08 L569.94,82.74 L570.60,81.49 L571.26,80.32 L571.92,79.24 L572.58,78.26 L573.24,77.37 L573.90,76.58 L574.56,75.88 L575.22,75.29 L575.88,74.80 L576.54,74.42 L577.20,74.14 L577.86,73.97 L578.52,73.90 L579.18,73.94 L579.84,74.09 L580.50,74.34 L581.16,74.70 L581.82,75.16 L582.48,75.72 L583.14,76.38 L583.80,77.15 L584.46,78.01 L585.12,78.96 L585.78,80.00 L586.44,81.14 L587.10,82.35 L587.76,83.65 L588.42,85.03 L589.08,86.48 L589.74,88.00 L590.40,89.59 L591.06,91.24 L591.72,92.95 L592.38,94.71 L593.04,96.53 L593.70,98.39 L594.36,100.29 L595.02,102.22 L595.68,104.20 L596.34,106.20 L597.00,108.22 L597.66,110.27 L598.32,112.33 L598.98,114.41 L599.64,116.49 L600.30,118.58 L600.96,120.67 L601.62,122.76 L602.28,124.85 L602.94,126.92 L603.60,128.98 L604.26,131.03 L604.92,133.06 L605.58,135.07 L606.25,137.06 L606.91,139.02 L607.57,140.96 L608.23,142.86 L608.89,144.73 L609.55,146.57 L610.21,148.38 L610.87,150.14 L611.53,151.87 L612.19,153.56 L612.85,155.21 L613.51,156.81 L614.17,158.37 L614.83,159.90 L615.49,161.37 L616.15,162.81 L616.81,164.19 L617.47,165.54 L618.13,166.84 L618.79,168.10 L619.45,169.31 L620.11,170.48 L620.77,171.60 L621.43,172.69 L622.09,173.73 L622.75,174.73 L623.41,175.69 L624.07,176.60 L624.73,177.48 L625.39,178.32 L626.05,179.13 L626.71,179.89 L627.37,180.62 L628.03,181.32 L628.69,181.98 L629.35,182.61 L630.01,183.21 L630.67,183.77 L631.33,184.31 L631.99,184.82 L632.65,185.31 L633.31,185.76 L633.97,186.19 L634.63,186.60 L635.29,186.98 L635.95,187.35 L636.61,187.69 L637.27,188.01 L637.93,188.31 L638.59,188.59 L639.25,188.86 L639.91,189.11 L640.57,189.34 L641.23,189.56 L641.89,189.77 L642.55,189.96 L643.21,190.14 L643.87,190.31 L644.53,190.47 L645.19,190.61 L645.85,190.75 L646.51,190.88 L647.17,191.00 L647.83,191.11 L648.49,191.22 L649.15,191.31 L649.82,191.40 L650.48,191.49 L651.14,191.57 L651.80,191.64 L652.46,191.71 L653.12,191.77 L653.78,191.83 L654.44,191.88 L655.10,191.94 L655.76,191.98 L656.42,192.03 L657.08,192.07 L657.74,192.11 L658.40,192.15 L659.06,192.18 L659.72,192.21 L660.38,192.24 L661.04,192.27 L661.70,192.30 L662.36,192.32 L663.02,192.35 L663.68,192.37 L664.34,192.39 L665.00,192.41 L665.66,192.43 L666.32,192.45 L666.98,192.46 L667.64,192.48 L668.30,192.49 L668.96,192.51 L669.62,192.52 L670.28,192.54 L670.94,192.55 L671.60,192.56" stroke="#1c1c1c" stroke-width="0.9" fill="none" stroke-linejoin="round"/>
<path d="M399.50,191.10 L399.80,191.10 L400.10,191.10 L400.40,191.10 L400.70,191.10 L401.00,191.10 L401.30,191.10 L401.60,191.09 L401.90,191.08 L402.20,191.05 L402.50,190.99 L402.80,190.89 L403.10,190.75 L403.40,190.59 L403.70,190.43 L404.00,190.32 L404.30,190.31 L404.60,190.38 L404.90,190.53 L405.20,190.70 L405.50,190.85 L405.80,190.96 L406.10,191.03 L406.40,191.07 L406.70,191.09 L407.00,191.10 L407.30,191.10 L407.60,191.10 L407.90,191.10 L408.20,191.10 L408.20,191.46 L408.86,191.41 L409.52,191.36 L410.18,191.30 L410.84,191.25 L411.50,191.19 L412.16,191.13 L412.82,191.07 L413.48,191.01 L414.14,190.95 L414.80,190.88 L415.46,190.81 L416.12,190.74 L416.78,190.66 L417.44,190.59 L418.10,190.51 L418.76,190.43 L419.42,190.35 L420.08,190.26 L420.74,190.17 L421.40,190.08 L422.06,189.98 L422.72,189.88 L423.38,189.78 L424.04,189.68 L424.70,189.57 L425.36,189.46 L426.02,189.35 L426.68,189.23 L427.34,189.11 L428.00,188.98 L428.66,188.86 L429.32,188.72 L429.98,188.59 L430.65,188.45 L431.31,188.30 L431.97,188.16 L432.63,188.00 L433.29,187.85 L433.95,187.69 L434.61,187.52 L435.27,187.35 L435.93,187.18 L436.59,187.00 L437.25,186.82 L437.91,186.63 L438.57,186.44 L439.23,186.24 L439.89,186.03 L440.55,185.83 L441.21,185.61 L441.87,185.39 L442.53,185.17 L443.19,184.94 L443.85,184.70 L444.51,184.46 L445.17,184.22 L445.83,183.97 L446.49,183.71 L447.15,183.44 L447.81,183.17 L448.47,182.90 L449.13,182.62 L449.79,182.33 L450.45,182.04 L451.11,181.74 L451.77,181.43 L452.43,181.12 L453.09,180.80 L453.75,180.48 L454.41,180.14 L455.07,179.81 L455.73,179.46 L456.39,179.11 L457.05,178.76 L457.71,178.39 L458.37,178.02 L459.03,177.65 L459.69,177.26 L460.35,176.87 L461.01,176.48 L461.67,176.08 L462.33,175.67 L462.99,175.25 L463.65,174.83 L464.31,174.40 L464.97,173.97 L465.63,173.53 L466.29,173.08 L466.95,172.63 L467.61,172.17 L468.27,171.70 L468.93,171.23 L469.59,170.75 L470.25,170.27 L470.91,169.78 L471.57,169.29 L472.23,168.78 L472.89,168.28 L473.55,167.77 L474.22,167.25 L474.88,166.73 L475.54,166.20 L476.20,165.67 L476.86,165.13 L477.52,164.59 L478.18,164.05 L478.84,163.49 L479.50,162.94 L480.16,162.38 L480.82,161.82 L481.48,161.25 L482.14,160.68 L482.80,160.11 L483.46,159.53 L484.12,158.95 L484.78,158.37 L485.44,157.79 L486.10,157.20 L486.76,156.61 L487.42,156.02 L488.08,155.42 L488.74,154.83 L489.40,154.23 L490.06,153.63 L490.72,153.04 L491.38,152.44 L492.04,151.84 L492.70,151.24 L493.36,150.64 L494.02,150.04 L494.68,149.43 L495.34,148.84 L496.00,148.24 L496.66,147.64 L497.32,147.04 L497.98,146.44 L498.64,145.85 L499.30,145.26 L499.96,144.66 L500.62,144.07 L501.28,143.48 L501.94,142.90 L502.60,142.31 L503.26,141.73 L503.92,141.15 L504.58,140.57 L505.24,140.00 L505.90,139.43 L506.56,138.85 L507.22,138.29 L507.88,137.72 L508.54,137.15 L509.20,136.59 L509.86,136.03 L510.52,135.47 L511.18,134.91 L511.84,134.35 L512.50,133.80 L513.16,133.24 L513.82,132.68 L514.48,132.13 L515.14,131.57 L515.80,131.01 L516.46,130.45 L517.12,129.89 L517.78,129.33 L518.45,128.76 L519.11,128.18 L519.77,127.61 L520.43,127.02 L521.09,126.44 L521.75,125.84 L522.41,125.23 L523.07,124.62 L523.73,124.00 L524.39,123.37 L525.05,122.72 L525.71,122.06 L526.37,121.39 L527.03,120.70 L527.69,120.00 L528.35,119.28 L529.01,118.55 L529.67,117.79 L530.33,117.01 L530.99,116.22 L531.65,115.40 L532.31,114.55 L532.97,113.68 L533.63,112.79 L534.29,111.88 L534.95,110.94 L535.61,109.98 L536.27,108.99 L536.93,107.97 L537.59,106.94 L538.25,105.87 L538.91,104.77 L539.57,103.65 L540.23,102.50 L540.89,101.32 L541.55,100.11 L542.21,98.87 L542.87,97.60 L543.53,96.31 L544.19,94.98 L544.85,93.63 L545.51,92.25 L546.17,90.84 L546.83,89.40 L547.49,87.94 L548.15,86.46 L548.81,84.95 L549.47,83.43 L550.13,81.88 L550.79,80.32 L551.45,78.74 L552.11,77.15 L552.77,75.54 L553.43,73.93 L554.09,72.32 L554.75,70.70 L555.41,69.08 L556.07,67.46 L556.73,65.86 L557.39,64.26 L558.05,62.67 L558.71,61.10 L559.37,59.56 L560.03,58.03 L560.69,56.54 L561.35,55.08 L562.02,53.65 L562.68,52.26 L563.34,50.92 L564.00,49.62 L564.66,48.37 L565.32,47.18 L565.98,46.04 L566.64,44.97 L567.30,43.96 L567.96,43.02 L568.62,42.16 L569.28,41.36 L569.94,40.64 L570.60,40.00 L571.26,39.45 L571.92,38.97 L572.58,38.58 L573.24,38.28 L573.90,38.07 L574.56,37.94 L575.22,37.90 L575.88,37.96 L576.54,38.10 L577.20,38.33 L577.86,38.66 L578.52,39.07 L579.18,39.56 L579.84,40.15 L580.50,40.81 L581.16,41.56 L581.82,42.39 L582.48,43.30 L583.14,44.28 L583.80,45.33 L584.46,46.45 L585.12,47.64 L585.78,48.89 L586.44,50.20 L587.10,51.56 L587.76,52.98 L588.42,54.45 L589.08,55.97 L589.74,57.53 L590.40,59.14 L591.06,60.78 L591.72,62.46 L592.38,64.18 L593.04,65.92 L593.70,67.71 L594.36,69.52 L595.02,71.36 L595.68,73.23 L596.34,75.12 L597.00,77.05 L597.66,78.99 L598.32,80.97 L598.98,82.97 L599.64,85.00 L600.30,87.05 L600.96,89.12 L601.62,91.22 L602.28,93.34 L602.94,95.49 L603.60,97.66 L604.26,99.86 L604.92,102.07 L605.58,104.30 L606.25,106.56 L606.91,108.83 L607.57,111.11 L608.23,113.41 L608.89,115.72 L609.55,118.03 L610.21,120.35 L610.87,122.67 L611.53,124.99 L612.19,127.30 L612.85,129.60 L613.51,131.89 L614.17,134.16 L614.83,136.42 L615.49,138.64 L616.15,140.84 L616.81,143.01 L617.47,145.14 L618.13,147.22 L618.79,149.27 L619.45,151.27 L620.11,153.22 L620.77,155.12 L621.43,156.97 L622.09,158.75 L622.75,160.48 L623.41,162.15 L624.07,163.77 L624.73,165.31 L625.39,166.80 L626.05,168.22 L626.71,169.59 L627.37,170.89 L628.03,172.13 L628.69,173.31 L629.35,174.43 L630.01,175.49 L630.67,176.49 L631.33,177.44 L631.99,178.34 L632.65,179.18 L633.31,179.98 L633.97,180.73 L634.63,181.43 L635.29,182.09 L635.95,182.71 L636.61,183.29 L637.27,183.83 L637.93,184.33 L638.59,184.81 L639.25,185.25 L639.91,185.66 L640.57,186.05 L641.23,186.40 L641.89,186.74 L642.55,187.05 L643.21,187.34 L643.87,187.61 L644.53,187.87 L645.19,188.10 L645.85,188.32 L646.51,188.53 L647.17,188.72 L647.83,188.90 L648.49,189.07 L649.15,189.23 L649.82,189.37 L650.48,189.51 L651.14,189.64 L651.80,189.76 L652.46,189.88 L653.12,189.98 L653.78,190.08 L654.44,190.18 L655.10,190.27 L655.76,190.35 L656.42,190.43 L657.08,190.50 L657.74,190.57 L658.40,190.64 L659.06,190.71 L659.72,190.77 L660.38,190.82 L661.04,190.88 L661.70,190.93 L662.36,190.98 L663.02,191.02 L663.68,191.07 L664.34,191.11 L665.00,191.15 L665.66,191.19 L666.32,191.23 L666.98,191.26 L667.64,191.30 L668.30,191.33 L668.96,191.36 L669.62,191.39 L670.28,191.42 L670.94,191.45 L671.60,191.48 L671.60,192.40 L672.36,192.29 L673.11,192.17 L673.87,192.06 L674.62,191.95 L675.38,191.83 L676.13,191.72 L676.89,191.61 L677.64,191.49 L678.40,191.38" stroke="#2b2bf0" stroke-width="0.9" fill="none" stroke-linejoin="round"/>
<text x="574.6" y="30.1" class="pk">O1s</text>
<text x="655.4" y="18.6" class="pl">(b)</text>
<path d="M57.9,257 V465 H328.6" stroke="#222" stroke-width="1" fill="none"/>
<path d="M57.80,465 V469 M102.93,465 V469 M148.07,465 V469 M193.20,465 V469 M238.33,465 V469 M283.47,465 V469 M328.60,465 V469 M80.37,465 V467 M125.50,465 V467 M170.63,465 V467 M215.77,465 V467 M260.90,465 V467 M306.03,465 V467 M53.9,465.00 H57.9 M53.9,432.00 H57.9 M53.9,399.00 H57.9 M53.9,366.00 H57.9 M53.9,333.00 H57.9 M53.9,300.00 H57.9 M53.9,267.00 H57.9 M55.9,448.50 H57.9 M55.9,415.50 H57.9 M55.9,382.50 H57.9 M55.9,349.50 H57.9 M55.9,316.50 H57.9 M55.9,283.50 H57.9" stroke="#222" stroke-width="1" fill="none"/>
<text x="57.80" y="479" class="tk" text-anchor="middle">1200</text>
<text x="102.93" y="479" class="tk" text-anchor="middle">1000</text>
<text x="148.07" y="479" class="tk" text-anchor="middle">800</text>
<text x="193.20" y="479" class="tk" text-anchor="middle">600</text>
<text x="238.33" y="479" class="tk" text-anchor="middle">400</text>
<text x="283.47" y="479" class="tk" text-anchor="middle">200</text>
<text x="328.60" y="479" class="tk" text-anchor="middle">0</text>
<text x="50.40" y="468.00" class="tk" text-anchor="end">0</text>
<text x="50.40" y="435.00" class="tk" text-anchor="end">50000</text>
<text x="50.40" y="402.00" class="tk" text-anchor="end">100000</text>
<text x="50.40" y="369.00" class="tk" text-anchor="end">150000</text>
<text x="50.40" y="336.00" class="tk" text-anchor="end">200000</text>
<text x="50.40" y="303.00" class="tk" text-anchor="end">250000</text>
<text x="50.40" y="270.00" class="tk" text-anchor="end">300000</text>
<text x="193.25" y="497.5" class="ti" text-anchor="middle">Binding energy (eV)</text>
<text transform="translate(10.4,360.5) rotate(-90)" x="0" y="0" class="ti" text-anchor="middle">Counts /s</text>
<path d="M58.20,366.20 L59.50,371.00 L60.60,375.00 L61.60,374.80 L62.60,375.78 L63.60,375.89 L64.60,375.80 L65.41,375.40 L66.22,375.53 L67.02,375.34 L67.83,375.43 L68.64,375.45 L69.45,374.55 L70.26,374.35 L71.07,375.10 L71.88,374.53 L72.68,374.76 L73.49,373.79 L74.30,374.20 L75.10,373.76 L75.90,373.69 L76.70,372.77 L77.50,373.18 L78.30,372.76 L79.10,371.42 L79.90,371.04 L80.70,371.23 L81.50,371.29 L82.30,370.30 L83.10,369.75 L83.90,369.60 L84.70,368.79 L85.50,368.62 L86.30,368.48 L87.10,368.17 L87.90,367.80 L88.70,367.80 L89.90,371.91 L91.10,376.60 L92.40,330.00 L92.90,318.80 L93.40,340.00 L93.90,377.40 L94.73,383.80 L95.57,390.49 L96.40,397.50 L97.75,330.00 L98.00,276.00 L98.25,330.00 L99.30,395.00 L100.00,406.40 L100.80,406.36 L101.60,406.17 L102.40,405.87 L103.20,406.40 L104.35,406.07 L105.50,405.00 L106.33,404.56 L107.17,404.16 L108.00,403.50 L109.50,409.00 L110.33,409.39 L111.17,411.01 L112.00,411.20 L112.81,411.43 L113.61,410.45 L114.42,410.51 L115.22,410.77 L116.03,410.59 L116.83,410.67 L117.64,409.94 L118.44,410.22 L119.25,409.87 L120.05,409.30 L120.86,409.44 L121.66,409.60 L122.47,409.39 L123.27,408.85 L124.08,408.77 L124.88,407.99 L125.69,408.05 L126.49,408.50 L127.30,408.00 L128.10,407.62 L128.90,407.07 L129.70,407.20 L130.50,407.08 L131.30,406.77 L132.10,406.15 L132.90,405.94 L133.70,405.73 L134.50,405.74 L135.30,405.17 L136.10,404.75 L136.90,404.57 L137.70,403.78 L138.50,403.51 L139.30,403.95 L140.10,403.97 L140.90,403.26 L141.70,402.75 L142.50,402.22 L143.30,402.30 L144.14,401.98 L144.97,402.18 L145.81,401.62 L146.64,401.04 L147.48,401.07 L148.31,400.06 L149.15,400.04 L149.98,400.20 L150.81,399.46 L151.65,399.01 L152.49,398.47 L153.32,398.45 L154.16,398.58 L154.99,397.21 L155.82,397.74 L156.66,397.45 L157.50,397.20 L158.33,396.71 L159.16,396.47 L160.00,395.80 L160.88,395.38 L161.76,394.99 L162.64,394.40 L163.52,393.55 L164.40,393.60 L165.50,393.41 L166.60,392.40 L167.70,391.98 L168.80,391.40 L169.90,390.72 L171.00,390.70 L172.05,390.86 L173.10,391.00 L174.60,389.90 L175.70,389.53 L176.80,389.20 L177.90,387.94 L179.00,387.00 L180.40,387.70 L181.90,396.50 L183.40,398.20 L184.45,398.28 L185.50,398.70 L186.50,399.71 L187.50,400.77 L188.50,401.60 L189.47,401.09 L190.43,400.29 L191.40,399.70 L192.37,398.68 L193.33,398.40 L194.30,398.20 L195.00,396.50 L196.20,388.00 L197.20,396.50 L198.20,398.70 L199.40,403.80 L200.90,406.70 L202.30,408.20 L203.80,413.30 L204.90,415.14 L206.00,417.70 L207.40,420.60 L208.20,405.00 L208.60,392.10 L209.00,405.00 L209.60,418.40 L211.10,419.90 L212.60,419.10 L213.45,420.55 L214.30,422.00 L215.50,400.00 L216.20,385.50 L216.80,410.00 L217.40,441.00 L218.40,443.20 L219.90,442.50 L220.80,435.00 L221.30,431.20 L221.90,440.00 L223.10,453.40 L223.92,453.93 L224.74,454.68 L225.56,455.05 L226.38,455.49 L227.20,455.60 L228.00,455.91 L228.80,455.26 L229.60,455.86 L230.40,455.64 L231.20,454.95 L232.00,454.84 L232.80,454.80 L233.60,455.58 L234.40,454.99 L235.20,454.80 L236.00,455.32 L236.80,454.98 L237.60,454.64 L238.40,454.70 L239.20,455.07 L240.00,455.00 L240.83,454.61 L241.67,454.71 L242.50,455.17 L243.33,454.86 L244.17,454.69 L245.00,454.84 L245.83,454.32 L246.67,454.70 L247.50,454.71 L248.33,454.43 L249.17,454.33 L250.00,455.17 L250.83,454.72 L251.67,454.37 L252.50,454.78 L253.33,454.99 L254.17,454.10 L255.00,454.60 L255.82,453.97 L256.64,454.01 L257.46,454.54 L258.28,453.83 L259.10,454.33 L259.92,454.20 L260.74,453.95 L261.56,453.49 L262.38,454.22 L263.20,453.60 L264.20,450.10 L265.20,453.60 L266.03,454.10 L266.86,453.96 L267.69,453.81 L268.51,454.45 L269.34,454.34 L270.17,454.71 L271.00,454.80 L271.80,454.47 L272.60,454.68 L273.40,453.91 L274.20,454.05 L275.00,454.65 L275.80,454.41 L276.60,453.65 L277.40,454.13 L278.20,453.39 L279.00,453.95 L279.80,453.60 L280.60,453.11 L281.40,452.79 L282.20,452.39 L283.00,452.80 L283.82,453.15 L284.63,452.16 L285.45,452.95 L286.27,453.04 L287.08,452.54 L287.90,452.04 L288.72,452.74 L289.53,452.79 L290.35,452.42 L291.17,452.14 L291.98,451.93 L292.80,452.00 L293.73,452.10 L294.67,452.21 L295.60,452.80 L296.30,446.00 L296.90,441.40 L297.50,446.00 L298.10,452.80 L298.98,453.14 L299.85,453.03 L300.73,452.91 L301.60,453.40 L302.60,452.75 L303.60,452.10 L304.80,453.66 L306.00,456.10 L307.30,445.00 L308.20,432.60 L309.00,445.00 L309.30,457.20 L310.40,461.00 L311.24,461.21 L312.08,460.84 L312.92,461.09 L313.75,460.93 L314.59,461.56 L315.43,461.62 L316.27,460.69 L317.11,460.92 L317.95,461.09 L318.78,461.84 L319.62,461.65 L320.46,461.19 L321.30,461.40 L322.40,460.63 L323.50,460.50 L324.30,461.35 L325.10,462.20 L325.60,455.00 L326.00,446.80 L326.50,455.00 L327.00,462.20 L328.40,464.90" stroke="#ee1818" stroke-width="1.0" fill="none" stroke-linejoin="round"/>
<circle cx="97.9" cy="275.9" r="2.4" fill="#800080"/>
<circle cx="208.6" cy="391.2" r="2.4" fill="#ff0000"/>
<circle cx="264.2" cy="446.8" r="2.4" fill="#000"/>
<text x="86" y="268.8" class="pk" style="fill:#8428c8;stroke:#8428c8">Zn2p3</text>
<text x="199.4" y="383.6" class="pk" style="fill:#ff0000;stroke:#ff0000">O1s</text>
<text x="257.7" y="439.6" class="pk">C1s</text>
<text x="311.8" y="269.6" class="pl">(c)</text>
<path d="M401.5,255.1 V462 H675.8" stroke="#222" stroke-width="1" fill="none"/>
<path d="M401.60,462 V466 M443.18,462 V466 M484.76,462 V466 M526.34,462 V466 M567.92,462 V466 M609.50,462 V466 M651.08,462 V466 M422.39,462 V464 M463.97,462 V464 M505.55,462 V464 M547.13,462 V464 M588.71,462 V464 M630.29,462 V464 M671.87,462 V464 M397.5,459.20 H401.5 M397.5,427.82 H401.5 M397.5,396.44 H401.5 M397.5,365.06 H401.5 M397.5,333.68 H401.5 M397.5,302.30 H401.5 M397.5,270.92 H401.5 M399.5,443.51 H401.5 M399.5,412.13 H401.5 M399.5,380.75 H401.5 M399.5,349.37 H401.5 M399.5,317.99 H401.5 M399.5,286.61 H401.5 M399.5,255.23 H401.5" stroke="#222" stroke-width="1" fill="none"/>
<text x="401.60" y="476" class="tk" text-anchor="middle">1050</text>
<text x="443.18" y="476" class="tk" text-anchor="middle">1045</text>
<text x="484.76" y="476" class="tk" text-anchor="middle">1040</text>
<text x="526.34" y="476" class="tk" text-anchor="middle">1035</text>
<text x="567.92" y="476" class="tk" text-anchor="middle">1030</text>
<text x="609.50" y="476" class="tk" text-anchor="middle">1025</text>
<text x="651.08" y="476" class="tk" text-anchor="middle">1020</text>
<text x="394.00" y="462.20" class="tk" text-anchor="end">10000</text>
<text x="394.00" y="430.82" class="tk" text-anchor="end">20000</text>
<text x="394.00" y="399.44" class="tk" text-anchor="end">30000</text>
<text x="394.00" y="368.06" class="tk" text-anchor="end">40000</text>
<text x="394.00" y="336.68" class="tk" text-anchor="end">50000</text>
<text x="394.00" y="305.30" class="tk" text-anchor="end">60000</text>
<text x="394.00" y="273.92" class="tk" text-anchor="end">70000</text>
<text x="538.65" y="494.5" class="ti" text-anchor="middle">Binding energy (eV)</text>
<text transform="translate(358.1,358.5) rotate(-90)" x="0" y="0" class="ti" text-anchor="middle">Counts /s</text>
<path d="M417.47,429.15 L417.89,429.14 L418.30,429.12 L418.71,429.11 L419.13,429.11 L419.54,429.10 L419.96,429.10 L420.37,429.10 L420.78,429.11 L421.20,429.13 L421.61,429.15 L422.03,429.18 L422.44,429.21 L422.86,429.25 L423.27,429.29 L423.68,429.34 L424.10,429.39 L424.51,429.44 L424.93,429.50 L425.34,429.57 L425.75,429.63 L426.17,429.70 L426.58,429.77 L427.00,429.85 L427.41,429.93 L427.83,430.01 L428.24,430.09 L428.65,430.17 L429.07,430.25 L429.48,430.34 L429.90,430.43 L430.31,430.51 L430.73,430.60 L431.14,430.68 L431.55,430.77 L431.97,430.86 L432.38,430.95 L432.80,431.05 L433.21,431.16 L433.62,431.28 L434.04,431.40 L434.45,431.53 L434.87,431.66 L435.28,431.80 L435.70,431.94 L436.11,432.09 L436.52,432.24 L436.94,432.39 L437.35,432.54 L437.77,432.70 L438.18,432.88 L438.59,433.07 L439.01,433.26 L439.42,433.47 L439.84,433.68 L440.25,433.90 L440.67,434.12 L441.08,434.34 L441.49,434.56 L441.91,434.78 L442.32,434.99 L442.74,435.19 L443.15,435.39 L443.56,435.57 L443.98,435.76 L444.39,435.94 L444.81,436.12 L445.22,436.31 L445.64,436.49 L446.05,436.67 L446.46,436.84 L446.88,437.01 L447.29,437.17 L447.71,437.32 L448.12,437.47 L448.54,437.60 L448.95,437.73 L449.36,437.84 L449.78,437.95 L450.19,438.06 L450.61,438.16 L451.02,438.26 L451.43,438.35 L451.85,438.44 L452.26,438.53 L452.68,438.61 L453.09,438.69 L453.51,438.76 L453.92,438.83 L454.33,438.90 L454.75,438.96 L455.16,439.02 L455.58,439.08 L455.99,439.14 L456.40,439.20 L456.82,439.25 L457.23,439.31 L457.65,439.36 L458.06,439.42 L458.48,439.47 L458.89,439.52 L459.30,439.57 L459.72,439.62 L460.13,439.67 L460.55,439.72 L460.96,439.76 L461.38,439.80 L461.79,439.85 L462.20,439.89 L462.62,439.92 L463.03,439.96 L463.45,440.00 L463.86,440.03 L464.27,440.06 L464.69,440.09 L465.10,440.12 L465.52,440.14 L465.93,440.16 L466.35,440.18 L466.76,440.20 L467.17,440.22 L467.59,440.23 L468.00,440.25 L468.42,440.26 L468.83,440.27 L469.24,440.28 L469.66,440.30 L470.07,440.31 L470.49,440.32 L470.90,440.32 L471.32,440.33 L471.73,440.34 L472.14,440.35" stroke="#f02020" stroke-width="0.9" fill="none" stroke-linejoin="round"/>
<path d="M587.29,444.85 L587.70,444.85 L588.12,444.86 L588.53,444.86 L588.95,444.86 L589.36,444.86 L589.77,444.87 L590.19,444.87 L590.60,444.87 L591.02,444.88 L591.43,444.88 L591.85,444.88 L592.26,444.88 L592.67,444.89 L593.09,444.89 L593.50,444.89 L593.92,444.89 L594.33,444.90 L594.74,444.90 L595.16,444.90 L595.57,444.90 L595.99,444.90 L596.40,444.91 L596.82,444.91 L597.23,444.91 L597.64,444.91 L598.06,444.91 L598.47,444.92 L598.89,444.92 L599.30,444.92 L599.71,444.92 L600.13,444.92 L600.54,444.92 L600.96,444.93 L601.37,444.93 L601.79,444.93 L602.20,444.93 L602.61,444.93 L603.03,444.93 L603.44,444.93 L603.86,444.94 L604.27,444.94 L604.68,444.94 L605.10,444.94 L605.51,444.94 L605.93,444.94 L606.34,444.94 L606.76,444.94 L607.17,444.95 L607.58,444.95 L608.00,444.95 L608.41,444.95 L608.83,444.95 L609.24,444.95 L609.66,444.95 L610.07,444.95 L610.48,444.96 L610.90,444.96 L611.31,444.96 L611.73,444.96 L612.14,444.96 L612.55,444.96 L612.97,444.96 L613.38,444.97 L613.80,444.97 L614.21,444.97 L614.63,444.97 L615.04,444.97 L615.45,444.97 L615.87,444.98 L616.28,444.98 L616.70,444.98 L617.11,444.98 L617.52,444.99 L617.94,444.99 L618.35,444.99 L618.77,444.99 L619.18,444.99 L619.60,445.00 L620.01,445.00 L620.42,445.00 L620.84,445.01 L621.25,445.01 L621.67,445.01 L622.08,445.02 L622.50,445.02 L622.91,445.02 L623.32,445.03 L623.74,445.03 L624.15,445.04 L624.57,445.04 L624.98,445.05 L625.39,445.05 L625.81,445.06 L626.22,445.07 L626.64,445.07 L627.05,445.08 L627.47,445.09 L627.88,445.10 L628.29,445.11 L628.71,445.13 L629.12,445.15 L629.54,445.18 L629.95,445.21 L630.36,445.25 L630.78,445.29 L631.19,445.34 L631.61,445.39 L632.02,445.44 L632.44,445.49 L632.85,445.54 L633.26,445.60 L633.68,445.65 L634.09,445.70 L634.51,445.75 L634.92,445.79 L635.34,445.84 L635.75,445.88 L636.16,445.91 L636.58,445.95 L636.99,445.99 L637.41,446.03 L637.82,446.07 L638.23,446.10 L638.65,446.14 L639.06,446.18 L639.48,446.22 L639.89,446.26 L640.31,446.29 L640.72,446.33 L641.13,446.36 L641.55,446.39 L641.96,446.41 L642.38,446.44 L642.79,446.46 L643.20,446.48 L643.62,446.49 L644.03,446.50 L644.45,446.51 L644.86,446.52 L645.28,446.52 L645.69,446.53 L646.10,446.54 L646.52,446.55 L646.93,446.55 L647.35,446.56 L647.76,446.57 L648.17,446.58 L648.59,446.58 L649.00,446.59 L649.42,446.59 L649.83,446.60 L650.25,446.61 L650.66,446.61 L651.07,446.62 L651.49,446.62 L651.90,446.63 L652.32,446.63 L652.73,446.64 L653.15,446.64 L653.56,446.65 L653.97,446.65 L654.39,446.66 L654.80,446.66 L655.22,446.66 L655.63,446.67 L656.04,446.67 L656.46,446.67 L656.87,446.68 L657.29,446.68 L657.70,446.68 L658.12,446.68 L658.53,446.69 L658.94,446.69 L659.36,446.69 L659.77,446.69 L660.19,446.69 L660.60,446.70 L661.01,446.70 L661.43,446.70 L661.84,446.70 L662.26,446.70 L662.67,446.70 L663.09,446.70 L663.50,446.70" stroke="#f02020" stroke-width="0.9" fill="none" stroke-linejoin="round"/>
<path d="M415.40,462.00 L415.40,429.30" stroke="#f02020" stroke-width="0.9" fill="none" stroke-linejoin="round"/>
<path d="M663.50,462.00 L663.50,446.70" stroke="#f02020" stroke-width="0.9" fill="none" stroke-linejoin="round"/>
<path d="M415.40,428.84 L415.81,428.78 L416.23,428.72 L416.64,428.65 L417.06,428.59 L417.47,428.52 L417.89,428.45 L418.30,428.37 L418.71,428.29 L419.13,428.20 L419.54,428.10 L419.96,428.00 L420.37,427.88 L420.78,427.74 L421.20,427.60 L421.61,427.44 L422.03,427.25 L422.44,427.05 L422.86,426.82 L423.27,426.56 L423.68,426.27 L424.10,425.93 L424.51,425.56 L424.93,425.14 L425.34,424.67 L425.75,424.15 L426.17,423.57 L426.58,422.92 L427.00,422.20 L427.41,421.41 L427.83,420.54 L428.24,419.59 L428.65,418.56 L429.07,417.44 L429.48,416.22 L429.90,414.91 L430.31,413.51 L430.73,412.01 L431.14,410.42 L431.55,408.73 L431.97,406.94 L432.38,405.08 L432.80,403.13 L433.21,401.11 L433.62,399.02 L434.04,396.87 L434.45,394.67 L434.87,392.42 L435.28,390.13 L435.70,387.81 L436.11,385.46 L436.52,383.11 L436.94,380.75 L437.35,378.39 L437.77,376.05 L438.18,373.74 L438.59,371.46 L439.01,369.24 L439.42,367.08 L439.84,365.00 L440.25,363.02 L440.67,361.18 L441.08,359.51 L441.49,358.03 L441.91,356.81 L442.32,355.86 L442.74,355.22 L443.15,354.91 L443.56,354.95 L443.98,355.33 L444.39,356.03 L444.81,357.03 L445.22,358.30 L445.64,359.80 L446.05,361.50 L446.46,363.35 L446.88,365.33 L447.29,367.42 L447.71,369.57 L448.12,371.78 L448.54,374.04 L448.95,376.32 L449.36,378.63 L449.78,380.97 L450.19,383.33 L450.61,385.70 L451.02,388.09 L451.43,390.47 L451.85,392.85 L452.26,395.22 L452.68,397.57 L453.09,399.88 L453.51,402.15 L453.92,404.38 L454.33,406.55 L454.75,408.66 L455.16,410.70 L455.58,412.59 L455.99,414.33 L456.40,415.94 L456.82,417.45 L457.23,418.86 L457.65,420.11 L458.06,421.17 L458.48,422.55 L458.89,423.69 L459.30,424.60 L459.72,425.27 L460.13,425.84 L460.55,426.22 L460.96,426.37 L461.38,426.36 L461.79,426.69 L462.20,426.76 L462.62,427.06 L463.03,427.24 L463.45,427.60 L463.86,427.74 L464.27,427.91 L464.69,427.85 L465.10,427.82 L465.52,427.84 L465.93,427.83 L466.35,427.83 L466.76,427.54 L467.17,427.24 L467.59,426.90 L468.00,427.31 L468.42,427.70 L468.83,428.07 L469.24,428.34 L469.66,428.21 L470.07,428.26 L470.49,428.37 L470.90,428.34 L471.32,428.39 L471.73,428.19 L472.14,428.07 L472.56,427.65 L472.97,427.92 L473.39,428.21 L473.80,428.35 L474.22,428.35 L474.63,428.11 L475.04,427.86 L475.46,428.05 L475.87,428.12 L476.29,428.24 L476.70,428.16 L477.11,428.01 L477.53,427.74 L477.94,428.36 L478.36,428.62 L478.77,429.01 L479.19,428.70 L479.60,428.57 L480.01,428.33 L480.43,428.19 L480.84,428.20 L481.26,428.27 L481.67,428.53 L482.08,428.66 L482.50,428.80 L482.91,429.03 L483.33,429.05 L483.74,429.07 L484.16,429.15 L484.57,429.42 L484.98,429.48 L485.40,429.54 L485.81,429.64 L486.23,429.76 L486.64,430.14 L487.05,430.62 L487.47,430.98 L487.88,430.85 L488.30,430.65 L488.71,430.40 L489.13,430.64 L489.54,430.83 L489.95,430.99 L490.37,430.81 L490.78,430.66 L491.20,430.53 L491.61,430.47 L492.03,430.70 L492.44,430.86 L492.85,431.01 L493.27,431.30 L493.68,431.61 L494.10,431.43 L494.51,431.22 L494.92,431.12 L495.34,431.51 L495.75,431.97 L496.17,432.56 L496.58,432.28 L497.00,431.87 L497.41,431.62 L497.82,431.81 L498.24,432.27 L498.65,432.56 L499.07,432.53 L499.48,432.70 L499.89,432.92 L500.31,432.62 L500.72,432.15 L501.14,431.85 L501.55,432.01 L501.97,432.14 L502.38,432.34 L502.79,432.37 L503.21,432.42 L503.62,432.55 L504.04,432.90 L504.45,433.02 L504.87,433.22 L505.28,433.39 L505.69,433.55 L506.11,433.86 L506.52,433.55 L506.94,433.27 L507.35,432.74 L507.76,433.13 L508.18,433.36 L508.59,433.70 L509.01,433.84 L509.42,434.05 L509.84,434.16 L510.25,433.78 L510.66,433.43 L511.08,433.03 L511.49,433.08 L511.91,433.32 L512.32,433.49 L512.73,433.81 L513.15,433.90 L513.56,434.03 L513.98,434.26 L514.39,434.74 L514.81,435.10 L515.22,434.73 L515.63,434.43 L516.05,433.84 L516.46,433.96 L516.88,434.21 L517.29,434.39 L517.71,434.42 L518.12,434.62 L518.53,435.05 L518.95,435.10 L519.36,435.20 L519.78,435.26 L520.19,435.26 L520.60,435.34 L521.02,435.34 L521.43,435.61 L521.85,436.07 L522.26,436.47 L522.68,436.30 L523.09,436.08 L523.50,435.71 L523.92,435.67 L524.33,435.57 L524.75,435.67 L525.16,435.79 L525.57,435.75 L525.99,435.95 L526.40,435.74 L526.82,435.52 L527.23,435.49 L527.65,435.40 L528.06,435.57 L528.47,435.69 L528.89,435.76 L529.30,435.81 L529.72,435.94 L530.13,436.26 L530.54,436.64 L530.96,436.98 L531.37,437.02 L531.79,436.68 L532.20,436.36 L532.62,436.84 L533.03,437.02 L533.44,437.49 L533.86,437.65 L534.27,437.62 L534.69,437.86 L535.10,437.94 L535.52,437.96 L535.93,437.98 L536.34,438.35 L536.76,438.66 L537.17,439.01 L537.59,438.87 L538.00,438.94 L538.41,438.79 L538.83,438.69 L539.24,438.57 L539.66,438.32 L540.07,438.87 L540.49,439.42 L540.90,439.92 L541.31,439.88 L541.73,439.79 L542.14,439.75 L542.56,439.59 L542.97,439.37 L543.38,439.15 L543.80,439.38 L544.21,439.60 L544.63,439.82 L545.04,439.68 L545.46,439.69 L545.87,439.71 L546.28,439.76 L546.70,439.95 L547.11,440.25 L547.53,440.44 L547.94,440.54 L548.36,440.95 L548.77,440.77 L549.18,440.78 L549.60,440.52 L550.01,440.39 L550.43,440.22 L550.84,440.01 L551.25,440.06 L551.67,440.25 L552.08,440.33 L552.50,440.81 L552.91,441.21 L553.33,441.73 L553.74,441.79 L554.15,441.76 L554.57,441.67 L554.98,441.60 L555.40,441.25 L555.81,441.04 L556.22,441.25 L556.64,441.60 L557.05,441.80 L557.47,441.35 L557.88,440.91 L558.30,440.51 L558.71,441.08 L559.12,441.65 L559.54,442.16 L559.95,442.34 L560.37,442.52 L560.78,442.57 L561.19,442.59 L561.61,442.71 L562.02,442.78 L562.44,442.86 L562.85,442.88 L563.27,442.69 L563.68,442.99 L564.09,443.27 L564.51,443.41 L564.92,443.40 L565.34,443.30 L565.75,443.07 L566.17,443.14 L566.58,442.96 L566.99,442.86 L567.41,442.84 L567.82,442.78 L568.24,442.73 L568.65,442.95 L569.06,443.03 L569.48,443.19 L569.89,443.08 L570.31,443.12 L570.72,442.92 L571.14,442.79 L571.55,442.66 L571.96,442.33 L572.38,442.81 L572.79,443.34 L573.21,443.69 L573.62,443.77 L574.03,443.90 L574.45,443.84 L574.86,443.73 L575.28,443.55 L575.69,443.35 L576.11,443.63 L576.52,443.84 L576.93,444.07 L577.35,443.91 L577.76,443.77 L578.18,443.49 L578.59,443.50 L579.01,443.53 L579.42,443.48 L579.83,443.36 L580.25,443.16 L580.66,443.13 L581.08,442.96 L581.49,442.98 L581.90,443.17 L582.32,443.17 L582.73,443.29 L583.15,443.42 L583.56,443.63 L583.98,443.80 L584.39,443.99 L584.80,444.25 L585.22,444.64 L585.63,444.68 L586.05,444.23 L586.46,443.86 L586.87,443.57 L587.29,443.75 L587.70,443.97 L588.12,444.29 L588.53,444.18 L588.95,443.89 L589.36,443.78 L589.77,443.99 L590.19,444.18 L590.60,444.44 L591.02,444.16 L591.43,443.86 L591.85,443.67 L592.26,443.53 L592.67,443.60 L593.09,443.62 L593.50,443.80 L593.92,444.10 L594.33,444.45 L594.74,444.34 L595.16,444.26 L595.57,444.19 L595.99,444.24 L596.40,444.19 L596.82,444.29 L597.23,443.97 L597.64,443.82 L598.06,443.33 L598.47,443.35 L598.89,443.36 L599.30,443.40 L599.71,443.19 L600.13,442.98 L600.54,442.91 L600.96,442.91 L601.37,442.90 L601.79,443.00 L602.20,443.05 L602.61,443.19 L603.03,443.33 L603.44,443.40 L603.86,443.39 L604.27,443.48 L604.68,443.04 L605.10,442.65 L605.51,442.50 L605.93,442.33 L606.34,442.15 L606.76,441.97 L607.17,441.78 L607.58,441.58 L608.00,441.38 L608.41,441.18 L608.83,440.98 L609.24,440.78 L609.66,440.59 L610.07,440.41 L610.48,440.24 L610.90,440.07 L611.31,439.91 L611.73,439.76 L612.14,439.62 L612.55,439.48 L612.97,439.34 L613.38,439.20 L613.80,439.04 L614.21,438.87 L614.63,438.68 L615.04,438.45 L615.45,438.18 L615.87,437.86 L616.28,437.48 L616.70,437.02 L617.11,436.47 L617.52,435.83 L617.94,435.07 L618.35,434.18 L618.77,433.15 L619.18,431.96 L619.60,430.61 L620.01,429.07 L620.42,427.33 L620.84,425.37 L621.25,423.20 L621.67,420.78 L622.08,418.12 L622.50,415.20 L622.91,412.02 L623.32,408.56 L623.74,404.83 L624.15,400.83 L624.57,396.56 L624.98,392.02 L625.39,387.23 L625.81,382.20 L626.22,376.95 L626.64,371.50 L627.05,365.88 L627.47,360.12 L627.88,354.24 L628.29,348.29 L628.71,342.32 L629.12,336.35 L629.54,330.44 L629.95,324.63 L630.36,318.97 L630.78,313.51 L631.19,308.32 L631.61,303.45 L632.02,298.99 L632.44,294.99 L632.85,291.54 L633.26,288.71 L633.68,286.58 L634.09,285.19 L634.51,284.59 L634.92,284.80 L635.34,285.81 L635.75,287.61 L636.16,290.16 L636.58,293.38 L636.99,297.21 L637.41,301.58 L637.82,306.40 L638.23,311.58 L638.65,317.06 L639.06,322.77 L639.48,328.65 L639.89,334.63 L640.31,340.68 L640.72,346.74 L641.13,352.78 L641.55,358.75 L641.96,364.62 L642.38,370.35 L642.79,375.92 L643.20,381.29 L643.62,386.45 L644.03,391.38 L644.45,396.05 L644.86,400.47 L645.28,404.62 L645.69,408.50 L646.10,412.10 L646.52,415.44 L646.93,418.51 L647.35,421.32 L647.76,423.87 L648.17,426.19 L648.59,428.28 L649.00,430.14 L649.42,431.81 L649.83,433.28 L650.25,434.58 L650.66,435.72 L651.07,436.72 L651.49,437.60 L651.90,438.36 L652.32,439.03 L652.73,439.62 L653.15,440.14 L653.56,440.61 L653.97,441.03 L654.39,441.42 L654.80,441.77 L655.22,442.11 L655.63,442.42 L656.04,442.71 L656.46,442.98 L656.87,443.24 L657.29,443.47 L657.70,443.69 L658.12,443.89 L658.53,444.06 L658.94,444.23 L659.36,444.37 L659.77,444.50 L660.19,444.61 L660.60,444.71 L661.01,444.79 L661.43,444.87 L661.84,444.94 L662.26,445.00 L662.67,445.06 L663.09,445.11 L663.50,445.16" stroke="#1c1c1c" stroke-width="0.9" fill="none" stroke-linejoin="round"/>
<path d="M401.50,430.80 L402.23,430.65 L402.96,430.44 L403.69,430.43 L404.43,430.09 L405.16,430.08 L405.89,429.80 L406.62,430.08 L407.35,430.03 L408.08,430.07 L408.82,429.80 L409.55,430.16 L410.28,430.01 L411.01,429.99 L411.74,429.75 L412.47,430.14 L413.21,430.29 L413.94,430.41 L414.67,430.01 L415.40,429.72 L415.40,428.84 L415.81,428.78 L416.23,428.72 L416.64,428.65 L417.06,428.59 L417.47,428.52 L417.89,428.45 L418.30,428.37 L418.71,428.29 L419.13,428.20 L419.54,428.10 L419.96,428.00 L420.37,427.88 L420.78,427.74 L421.20,427.60 L421.61,427.44 L422.03,427.25 L422.44,427.05 L422.86,426.82 L423.27,426.56 L423.68,426.27 L424.10,425.93 L424.51,425.56 L424.93,425.14 L425.34,424.67 L425.75,424.15 L426.17,423.57 L426.58,422.92 L427.00,422.20 L427.41,421.41 L427.83,420.54 L428.24,419.59 L428.65,418.56 L429.07,417.44 L429.48,416.22 L429.90,414.91 L430.31,413.51 L430.73,412.01 L431.14,410.42 L431.55,408.73 L431.97,406.94 L432.38,405.08 L432.80,403.13 L433.21,401.11 L433.62,399.03 L434.04,396.88 L434.45,394.68 L434.87,392.44 L435.28,390.17 L435.70,387.87 L436.11,385.57 L436.52,383.27 L436.94,380.99 L437.35,378.75 L437.77,376.56 L438.18,374.44 L438.59,372.42 L439.01,370.51 L439.42,368.72 L439.84,367.07 L440.25,365.57 L440.67,364.23 L441.08,363.06 L441.49,362.09 L441.91,361.30 L442.32,360.72 L442.74,360.35 L443.15,360.18 L443.56,360.24 L443.98,360.50 L444.39,360.96 L444.81,361.61 L445.22,362.44 L445.64,363.46 L446.05,364.65 L446.46,366.00 L446.88,367.50 L447.29,369.14 L447.71,370.91 L448.12,372.80 L448.54,374.79 L448.95,376.87 L449.36,379.02 L449.78,381.23 L450.19,383.50 L450.61,385.82 L451.02,388.16 L451.43,390.52 L451.85,392.88 L452.26,395.24 L452.68,397.58 L453.09,399.88 L453.51,402.16 L453.92,404.38 L454.33,406.55 L454.75,408.66 L455.16,410.71 L455.58,412.68 L455.99,414.58 L456.40,416.40 L456.82,418.15 L457.23,419.81 L457.65,421.39 L458.06,422.88 L458.48,424.29 L458.89,425.62 L459.30,426.86 L459.72,428.02 L460.13,429.11 L460.55,430.12 L460.96,431.05 L461.38,431.92 L461.79,432.72 L462.20,433.45 L462.62,434.12 L463.03,434.73 L463.45,435.29 L463.86,435.80 L464.27,436.27 L464.69,436.68 L465.10,437.06 L465.52,437.40 L465.93,437.70 L466.35,437.97 L466.76,438.22 L467.17,438.43 L467.59,438.62 L468.00,438.80 L468.42,438.95 L468.83,439.08 L469.24,439.20 L469.66,439.31 L470.07,439.40 L470.49,439.48 L470.90,439.56 L471.32,439.62 L471.73,439.68 L472.14,439.73 L472.56,439.78 L472.97,439.82 L473.39,439.86 L473.80,439.89 L474.22,439.92 L474.63,439.95 L475.04,439.98 L475.46,440.00 L475.87,440.03 L476.29,440.05 L476.70,440.07 L477.11,440.09 L477.53,440.12 L477.94,440.14 L478.36,440.16 L478.77,440.18 L479.19,440.21 L479.60,440.23 L480.01,440.26 L480.43,440.28 L480.84,440.31 L481.26,440.33 L481.67,440.36 L482.08,440.39 L482.50,440.42 L482.91,440.44 L483.33,440.47 L483.74,440.50 L484.16,440.53 L484.57,440.56 L484.98,440.60 L485.40,440.63 L485.81,440.66 L486.23,440.69 L486.64,440.73 L487.05,440.76 L487.47,440.79 L487.88,440.83 L488.30,440.86 L488.71,440.90 L489.13,440.93 L489.54,440.97 L489.95,441.00 L490.37,441.04 L490.78,441.07 L491.20,441.11 L491.61,441.14 L492.03,441.18 L492.44,441.21 L492.85,441.25 L493.27,441.28 L493.68,441.32 L494.10,441.35 L494.51,441.39 L494.92,441.42 L495.34,441.46 L495.75,441.49 L496.17,441.52 L496.58,441.56 L497.00,441.59 L497.41,441.62 L497.82,441.65 L498.24,441.68 L498.65,441.72 L499.07,441.75 L499.48,441.77 L499.89,441.80 L500.31,441.83 L500.72,441.86 L501.14,441.89 L501.55,441.91 L501.97,441.94 L502.38,441.96 L502.79,441.99 L503.21,442.01 L503.62,442.04 L504.04,442.06 L504.45,442.09 L504.87,442.11 L505.28,442.13 L505.69,442.16 L506.11,442.18 L506.52,442.21 L506.94,442.23 L507.35,442.25 L507.76,442.28 L508.18,442.30 L508.59,442.32 L509.01,442.34 L509.42,442.37 L509.84,442.39 L510.25,442.41 L510.66,442.44 L511.08,442.46 L511.49,442.48 L511.91,442.50 L512.32,442.52 L512.73,442.54 L513.15,442.57 L513.56,442.59 L513.98,442.61 L514.39,442.63 L514.81,442.65 L515.22,442.67 L515.63,442.69 L516.05,442.71 L516.46,442.73 L516.88,442.75 L517.29,442.77 L517.71,442.80 L518.12,442.82 L518.53,442.84 L518.95,442.85 L519.36,442.87 L519.78,442.89 L520.19,442.91 L520.60,442.93 L521.02,442.95 L521.43,442.97 L521.85,442.99 L522.26,443.01 L522.68,443.03 L523.09,443.05 L523.50,443.06 L523.92,443.08 L524.33,443.10 L524.75,443.12 L525.16,443.14 L525.57,443.16 L525.99,443.17 L526.40,443.19 L526.82,443.21 L527.23,443.23 L527.65,443.24 L528.06,443.26 L528.47,443.28 L528.89,443.30 L529.30,443.31 L529.72,443.33 L530.13,443.35 L530.54,443.37 L530.96,443.38 L531.37,443.40 L531.79,443.42 L532.20,443.44 L532.62,443.45 L533.03,443.47 L533.44,443.49 L533.86,443.50 L534.27,443.52 L534.69,443.54 L535.10,443.55 L535.52,443.57 L535.93,443.59 L536.34,443.60 L536.76,443.62 L537.17,443.63 L537.59,443.65 L538.00,443.66 L538.41,443.68 L538.83,443.69 L539.24,443.71 L539.66,443.72 L540.07,443.74 L540.49,443.75 L540.90,443.77 L541.31,443.78 L541.73,443.79 L542.14,443.81 L542.56,443.82 L542.97,443.83 L543.38,443.85 L543.80,443.86 L544.21,443.87 L544.63,443.89 L545.04,443.90 L545.46,443.91 L545.87,443.92 L546.28,443.93 L546.70,443.94 L547.11,443.95 L547.53,443.96 L547.94,443.98 L548.36,443.99 L548.77,444.00 L549.18,444.01 L549.60,444.01 L550.01,444.02 L550.43,444.03 L550.84,444.04 L551.25,444.05 L551.67,444.06 L552.08,444.07 L552.50,444.08 L552.91,444.09 L553.33,444.10 L553.74,444.11 L554.15,444.12 L554.57,444.12 L554.98,444.13 L555.40,444.14 L555.81,444.15 L556.22,444.16 L556.64,444.17 L557.05,444.17 L557.47,444.18 L557.88,444.19 L558.30,444.20 L558.71,444.20 L559.12,444.21 L559.54,444.22 L559.95,444.22 L560.37,444.23 L560.78,444.24 L561.19,444.24 L561.61,444.25 L562.02,444.26 L562.44,444.26 L562.85,444.27 L563.27,444.27 L563.68,444.28 L564.09,444.28 L564.51,444.29 L564.92,444.29 L565.34,444.30 L565.75,444.30 L566.17,444.31 L566.58,444.31 L566.99,444.31 L567.41,444.32 L567.82,444.32 L568.24,444.32 L568.65,444.33 L569.06,444.33 L569.48,444.33 L569.89,444.33 L570.31,444.33 L570.72,444.34 L571.14,444.34 L571.55,444.34 L571.96,444.34 L572.38,444.34 L572.79,444.34 L573.21,444.34 L573.62,444.34 L574.03,444.34 L574.45,444.34 L574.86,444.34 L575.28,444.34 L575.69,444.34 L576.11,444.34 L576.52,444.34 L576.93,444.34 L577.35,444.34 L577.76,444.33 L578.18,444.33 L578.59,444.33 L579.01,444.33 L579.42,444.33 L579.83,444.32 L580.25,444.32 L580.66,444.32 L581.08,444.31 L581.49,444.31 L581.90,444.31 L582.32,444.30 L582.73,444.30 L583.15,444.30 L583.56,444.29 L583.98,444.29 L584.39,444.28 L584.80,444.28 L585.22,444.27 L585.63,444.27 L586.05,444.26 L586.46,444.25 L586.87,444.25 L587.29,444.24 L587.70,444.23 L588.12,444.23 L588.53,444.22 L588.95,444.21 L589.36,444.20 L589.77,444.19 L590.19,444.18 L590.60,444.17 L591.02,444.16 L591.43,444.15 L591.85,444.14 L592.26,444.13 L592.67,444.12 L593.09,444.11 L593.50,444.10 L593.92,444.08 L594.33,444.07 L594.74,444.06 L595.16,444.04 L595.57,444.03 L595.99,444.01 L596.40,444.00 L596.82,443.98 L597.23,443.96 L597.64,443.94 L598.06,443.92 L598.47,443.90 L598.89,443.88 L599.30,443.86 L599.71,443.84 L600.13,443.82 L600.54,443.79 L600.96,443.77 L601.37,443.74 L601.79,443.72 L602.20,443.69 L602.61,443.66 L603.03,443.63 L603.44,443.60 L603.86,443.56 L604.27,443.53 L604.68,443.49 L605.10,443.46 L605.51,443.42 L605.93,443.38 L606.34,443.33 L606.76,443.29 L607.17,443.24 L607.58,443.19 L608.00,443.13 L608.41,443.07 L608.83,443.01 L609.24,442.94 L609.66,442.86 L610.07,442.78 L610.48,442.69 L610.90,442.59 L611.31,442.48 L611.73,442.36 L612.14,442.22 L612.55,442.06 L612.97,441.88 L613.38,441.68 L613.80,441.44 L614.21,441.18 L614.63,440.87 L615.04,440.52 L615.45,440.12 L615.87,439.66 L616.28,439.13 L616.70,438.53 L617.11,437.84 L617.52,437.05 L617.94,436.15 L618.35,435.14 L618.77,433.99 L619.18,432.69 L619.60,431.23 L620.01,429.60 L620.42,427.78 L620.84,425.75 L621.25,423.51 L621.67,421.04 L622.08,418.33 L622.50,415.37 L622.91,412.15 L623.32,408.67 L623.74,404.92 L624.15,400.90 L624.57,396.61 L624.98,392.06 L625.39,387.26 L625.81,382.23 L626.22,376.98 L626.64,371.53 L627.05,365.92 L627.47,360.17 L627.88,354.31 L628.29,348.41 L628.71,342.49 L629.12,336.61 L629.54,330.83 L629.95,325.19 L630.36,319.75 L630.78,314.57 L631.19,309.71 L631.61,305.23 L632.02,301.19 L632.44,297.64 L632.85,294.63 L633.26,292.22 L633.68,290.43 L634.09,289.30 L634.51,288.85 L634.92,289.09 L635.34,290.01 L635.75,291.59 L636.16,293.82 L636.58,296.65 L636.99,300.05 L637.41,303.97 L637.82,308.34 L638.23,313.13 L638.65,318.25 L639.06,323.66 L639.48,329.29 L639.89,335.09 L640.31,340.99 L640.72,346.95 L641.13,352.91 L641.55,358.83 L641.96,364.67 L642.38,370.38 L642.79,375.94 L643.20,381.31 L643.62,386.46 L644.03,391.38 L644.45,396.06 L644.86,400.48 L645.28,404.63 L645.69,408.52 L646.10,412.13 L646.52,415.48 L646.93,418.57 L647.35,421.40 L647.76,423.99 L648.17,426.34 L648.59,428.47 L649.00,430.39 L649.42,432.12 L649.83,433.66 L650.25,435.04 L650.66,436.26 L651.07,437.34 L651.49,438.30 L651.90,439.14 L652.32,439.88 L652.73,440.53 L653.15,441.10 L653.56,441.60 L653.97,442.03 L654.39,442.41 L654.80,442.74 L655.22,443.03 L655.63,443.28 L656.04,443.50 L656.46,443.70 L656.87,443.87 L657.29,444.02 L657.70,444.16 L658.12,444.28 L658.53,444.38 L658.94,444.48 L659.36,444.57 L659.77,444.65 L660.19,444.73 L660.60,444.80 L661.01,444.86 L661.43,444.92 L661.84,444.97 L662.26,445.03 L662.67,445.07 L663.09,445.12 L663.50,445.16 L663.50,447.16 L663.92,447.05 L664.35,446.55 L664.77,446.04 L665.20,446.17 L665.62,446.47 L666.04,446.82 L666.47,446.91 L666.89,446.59 L667.32,446.51 L667.74,446.66 L668.17,447.17 L668.59,447.65 L669.01,447.97 L669.44,447.99 L669.86,447.79 L670.29,447.84 L670.71,447.53 L671.13,447.82 L671.56,447.96 L671.98,448.68 L672.41,448.66 L672.83,448.41 L673.26,448.10 L673.68,447.61 L674.10,447.86 L674.53,447.66 L674.95,447.69 L675.38,447.42 L675.80,447.56" stroke="#2b2bf0" stroke-width="1.0" fill="none" stroke-linejoin="round"/>
<text x="425.7" y="348.2" class="pk">Zn 2p1/2</text>
<text x="601.5" y="276.8" class="pk">Zn 2p3/2</text>
<text x="658.4" y="275.2" class="pl">(d)</text>
<path d="M51.5,509.9 V718 H333.1" stroke="#222" stroke-width="1" fill="none"/>
<path d="M79.20,718 V722 M157.60,718 V722 M236.00,718 V722 M314.40,718 V722 M118.40,718 V720 M196.80,718 V720 M275.20,718 V720 M47.5,718.00 H51.5 M47.5,696.13 H51.5 M47.5,674.27 H51.5 M47.5,652.40 H51.5 M47.5,630.54 H51.5 M47.5,608.67 H51.5 M47.5,586.80 H51.5 M47.5,564.94 H51.5 M47.5,543.07 H51.5 M47.5,521.21 H51.5 M49.5,707.07 H51.5 M49.5,685.20 H51.5 M49.5,663.34 H51.5 M49.5,641.47 H51.5 M49.5,619.60 H51.5 M49.5,597.74 H51.5 M49.5,575.87 H51.5 M49.5,554.00 H51.5 M49.5,532.14 H51.5 M49.5,510.27 H51.5" stroke="#222" stroke-width="1" fill="none"/>
<text x="79.20" y="732" class="tk" text-anchor="middle">534</text>
<text x="157.60" y="732" class="tk" text-anchor="middle">532</text>
<text x="236.00" y="732" class="tk" text-anchor="middle">530</text>
<text x="314.40" y="732" class="tk" text-anchor="middle">528</text>
<text x="44.00" y="721.00" class="tk" text-anchor="end">6000</text>
<text x="44.00" y="699.13" class="tk" text-anchor="end">8000</text>
<text x="44.00" y="677.27" class="tk" text-anchor="end">10000</text>
<text x="44.00" y="655.40" class="tk" text-anchor="end">12000</text>
<text x="44.00" y="633.54" class="tk" text-anchor="end">14000</text>
<text x="44.00" y="611.67" class="tk" text-anchor="end">16000</text>
<text x="44.00" y="589.80" class="tk" text-anchor="end">18000</text>
<text x="44.00" y="567.94" class="tk" text-anchor="end">20000</text>
<text x="44.00" y="546.07" class="tk" text-anchor="end">22000</text>
<text x="44.00" y="524.21" class="tk" text-anchor="end">24000</text>
<text x="192.30" y="750.5" class="ti" text-anchor="middle">Binding energy (eV)</text>
<text transform="translate(11.3,613.3) rotate(-90)" x="0" y="0" class="ti" text-anchor="middle">Counts / s</text>
<path d="M127.44,665.05 L128.12,664.46 L128.79,663.87 L129.46,663.27 L130.13,662.67 L130.81,662.06 L131.48,661.45 L132.15,660.83 L132.82,660.22 L133.49,659.60 L134.17,658.98 L134.84,658.35 L135.51,657.73 L136.18,657.11 L136.85,656.48 L137.53,655.86 L138.20,655.24 L138.87,654.62 L139.54,654.01 L140.21,653.40 L140.89,652.79 L141.56,652.19 L142.23,651.59 L142.90,651.00 L143.57,650.42 L144.25,649.84 L144.92,649.28 L145.59,648.72 L146.26,648.17 L146.93,647.63 L147.61,647.10 L148.28,646.59 L148.95,646.08 L149.62,645.59 L150.30,645.12 L150.97,644.65 L151.64,644.21 L152.31,643.77 L152.98,643.36 L153.66,642.96 L154.33,642.57 L155.00,642.21 L155.67,641.86 L156.34,641.54 L157.02,641.23 L157.69,640.94 L158.36,640.67 L159.03,640.42 L159.70,640.20 L160.38,639.99 L161.05,639.81 L161.72,639.64 L162.39,639.50 L163.06,639.39 L163.74,639.29 L164.41,639.22 L165.08,639.17 L165.75,639.14 L166.43,639.14 L167.10,639.16 L167.77,639.20 L168.44,639.26 L169.11,639.35 L169.79,639.46 L170.46,639.59 L171.13,639.75 L171.80,639.93 L172.47,640.13 L173.15,640.35 L173.82,640.59 L174.49,640.85 L175.16,641.13 L175.83,641.44 L176.51,641.76 L177.18,642.10 L177.85,642.46 L178.52,642.84 L179.19,643.24 L179.87,643.65 L180.54,644.08 L181.21,644.53 L181.88,644.99 L182.55,645.47 L183.23,645.96 L183.90,646.47 L184.57,646.98 L185.24,647.51 L185.92,648.06 L186.59,648.61 L187.26,649.17 L187.93,649.74 L188.60,650.33 L189.28,650.92 L189.95,651.51 L190.62,652.12 L191.29,652.73 L191.96,653.34 L192.64,653.96 L193.31,654.59 L193.98,655.22 L194.65,655.85 L195.32,656.48 L196.00,657.12 L196.67,657.75 L197.34,658.39 L198.01,659.03 L198.68,659.66 L199.36,660.30 L200.03,660.93 L200.70,661.56 L201.37,662.19 L202.05,662.81 L202.72,663.43 L203.39,664.05 L204.06,664.66 L204.73,665.26 L205.41,665.86 L206.08,666.46 L206.75,667.04 L207.42,667.62 L208.09,668.20 L208.77,668.76 L209.44,669.32 L210.11,669.87 L210.78,670.42 L211.45,670.95 L212.13,671.47 L212.80,671.99 L213.47,672.50 L214.14,672.99 L214.81,673.48 L215.49,673.96 L216.16,674.43 L216.83,674.89 L217.50,675.34 L218.17,675.78 L218.85,676.21 L219.52,676.63 L220.19,677.04 L220.86,677.44 L221.54,677.83 L222.21,678.21 L222.88,678.58 L223.55,678.94 L224.22,679.29 L224.90,679.63 L225.57,679.96 L226.24,680.28 L226.91,680.59 L227.58,680.90 L228.26,681.19 L228.93,681.47 L229.60,681.75 L230.27,682.02 L230.94,682.27 L231.62,682.52 L232.29,682.77 L232.96,683.00 L233.63,683.22 L234.30,683.44 L234.98,683.65 L235.65,683.85 L236.32,684.05 L236.99,684.23 L237.67,684.41 L238.34,684.59 L239.01,684.75 L239.68,684.92 L240.35,685.07 L241.03,685.22 L241.70,685.36 L242.37,685.50 L243.04,685.63 L243.71,685.75 L244.39,685.87 L245.06,685.99 L245.73,686.10 L246.40,686.21 L247.07,686.31 L247.75,686.41 L248.42,686.50 L249.09,686.59 L249.76,686.67 L250.43,686.75 L251.11,686.83 L251.78,686.91 L252.45,686.98 L253.12,687.04 L253.79,687.11 L254.47,687.17 L255.14,687.23 L255.81,687.29 L256.48,687.34 L257.16,687.39 L257.83,687.44 L258.50,687.49 L259.17,687.53 L259.84,687.57 L260.52,687.61 L261.19,687.65 L261.86,687.69 L262.53,687.73 L263.20,687.76 L263.88,687.79 L264.55,687.82 L265.22,687.85 L265.89,687.88 L266.56,687.91 L267.24,687.93 L267.91,687.96 L268.58,687.98 L269.25,688.00 L269.92,688.03 L270.60,688.05 L271.27,688.07 L271.94,688.09 L272.61,688.10 L273.29,688.12 L273.96,688.14 L274.63,688.16 L275.30,688.17 L275.97,688.19 L276.65,688.20 L277.32,688.22 L277.99,688.23 L278.66,688.24 L279.33,688.26 L280.01,688.27 L280.68,688.28 L281.35,688.29 L282.02,688.31 L282.69,688.32 L283.37,688.33 L284.04,688.34 L284.71,688.35 L285.38,688.36 L286.05,688.37 L286.73,688.38 L287.40,688.39 L288.07,688.40 L288.74,688.41 L289.42,688.42 L290.09,688.43 L290.76,688.44 L291.43,688.45 L292.10,688.46 L292.78,688.47 L293.45,688.47 L294.12,688.48 L294.79,688.49 L295.46,688.50 L296.14,688.51 L296.81,688.52 L297.48,688.53 L298.15,688.53 L298.82,688.54 L299.50,688.55 L300.17,688.56 L300.84,688.57 L301.51,688.57 L302.18,688.58 L302.86,688.59 L303.53,688.60 L304.20,688.60 L304.87,688.61 L305.54,688.62 L306.22,688.63 L306.89,688.64 L307.56,688.64 L308.23,688.65 L308.91,688.66 L309.58,688.67 L310.25,688.67 L310.92,688.68 L311.59,688.69 L312.27,688.70 L312.94,688.70 L313.61,688.71 L314.28,688.72 L314.95,688.73 L315.63,688.73 L316.30,688.74 L316.97,688.75 L317.64,688.75 L318.31,688.76 L318.99,688.77 L319.66,688.78 L320.33,688.78 L321.00,688.79 L321.67,688.80 L322.35,688.81 L323.02,688.81 L323.69,688.82" stroke="#f02020" stroke-width="1.0" fill="none" stroke-linejoin="round"/>
<path d="M51.50,686.58 L52.17,686.58 L52.84,686.59 L53.52,686.59 L54.19,686.60 L54.86,686.61 L55.53,686.61 L56.20,686.62 L56.88,686.62 L57.55,686.63 L58.22,686.63 L58.89,686.64 L59.56,686.64 L60.24,686.65 L60.91,686.66 L61.58,686.66 L62.25,686.67 L62.93,686.67 L63.60,686.68 L64.27,686.68 L64.94,686.69 L65.61,686.69 L66.29,686.70 L66.96,686.71 L67.63,686.71 L68.30,686.72 L68.97,686.72 L69.65,686.73 L70.32,686.73 L70.99,686.74 L71.66,686.74 L72.33,686.75 L73.01,686.75 L73.68,686.76 L74.35,686.76 L75.02,686.77 L75.69,686.78 L76.37,686.78 L77.04,686.79 L77.71,686.79 L78.38,686.80 L79.06,686.80 L79.73,686.81 L80.40,686.81 L81.07,686.82 L81.74,686.82 L82.42,686.83 L83.09,686.83 L83.76,686.84 L84.43,686.84 L85.10,686.85 L85.78,686.85 L86.45,686.86 L87.12,686.86 L87.79,686.87 L88.46,686.87 L89.14,686.88 L89.81,686.88 L90.48,686.89 L91.15,686.89 L91.82,686.89 L92.50,686.90 L93.17,686.90 L93.84,686.91 L94.51,686.91 L95.18,686.92 L95.86,686.92 L96.53,686.93 L97.20,686.93 L97.87,686.93 L98.55,686.94 L99.22,686.94 L99.89,686.95 L100.56,686.95 L101.23,686.96 L101.91,686.96 L102.58,686.96 L103.25,686.97 L103.92,686.97 L104.59,686.97 L105.27,686.98 L105.94,686.98 L106.61,686.98 L107.28,686.99 L107.95,686.99 L108.63,686.99 L109.30,687.00 L109.97,687.00 L110.64,687.00 L111.31,687.00 L111.99,687.01 L112.66,687.01 L113.33,687.01 L114.00,687.01 L114.68,687.01 L115.35,687.01 L116.02,687.01 L116.69,687.01 L117.36,687.01 L118.04,687.01 L118.71,687.01 L119.38,687.01 L120.05,687.01 L120.72,687.01 L121.40,687.00 L122.07,687.00 L122.74,686.99 L123.41,686.99 L124.08,686.98 L124.76,686.98 L125.43,686.97 L126.10,686.96 L126.77,686.95 L127.44,686.94 L128.12,686.93 L128.79,686.91 L129.46,686.90 L130.13,686.88 L130.81,686.86 L131.48,686.84 L132.15,686.82 L132.82,686.80 L133.49,686.77 L134.17,686.74 L134.84,686.71 L135.51,686.67 L136.18,686.64 L136.85,686.60 L137.53,686.55 L138.20,686.51 L138.87,686.46 L139.54,686.40 L140.21,686.34 L140.89,686.28 L141.56,686.21 L142.23,686.13 L142.90,686.05 L143.57,685.97 L144.25,685.88 L144.92,685.78 L145.59,685.67 L146.26,685.56 L146.93,685.44 L147.61,685.31 L148.28,685.17 L148.95,685.03 L149.62,684.87 L150.30,684.71 L150.97,684.53 L151.64,684.34 L152.31,684.14 L152.98,683.93 L153.66,683.70 L154.33,683.47 L155.00,683.21 L155.67,682.95 L156.34,682.66 L157.02,682.36 L157.69,682.05 L158.36,681.72 L159.03,681.36 L159.70,680.99 L160.38,680.60 L161.05,680.19 L161.72,679.76 L162.39,679.31 L163.06,678.83 L163.74,678.33 L164.41,677.81 L165.08,677.26 L165.75,676.69 L166.43,676.09 L167.10,675.46 L167.77,674.81 L168.44,674.12 L169.11,673.41 L169.79,672.67 L170.46,671.89 L171.13,671.09 L171.80,670.25 L172.47,669.38 L173.15,668.48 L173.82,667.55 L174.49,666.58 L175.16,665.57 L175.83,664.53 L176.51,663.46 L177.18,662.35 L177.85,661.21 L178.52,660.03 L179.19,658.81 L179.87,657.56 L180.54,656.27 L181.21,654.94 L181.88,653.58 L182.55,652.19 L183.23,650.76 L183.90,649.29 L184.57,647.79 L185.24,646.26 L185.92,644.69 L186.59,643.09 L187.26,641.46 L187.93,639.80 L188.60,638.10 L189.28,636.38 L189.95,634.63 L190.62,632.86 L191.29,631.06 L191.96,629.24 L192.64,627.40 L193.31,625.53 L193.98,623.65 L194.65,621.75 L195.32,619.84 L196.00,617.91 L196.67,615.97 L197.34,614.03 L198.01,612.08 L198.68,610.12 L199.36,608.17 L200.03,606.21 L200.70,604.26 L201.37,602.31 L202.05,600.38 L202.72,598.45 L203.39,596.54 L204.06,594.65 L204.73,592.77 L205.41,590.92 L206.08,589.09 L206.75,587.30 L207.42,585.53 L208.09,583.80 L208.77,582.10 L209.44,580.44 L210.11,578.83 L210.78,577.26 L211.45,575.74 L212.13,574.26 L212.80,572.85 L213.47,571.48 L214.14,570.18 L214.81,568.94 L215.49,567.76 L216.16,566.64 L216.83,565.59 L217.50,564.61 L218.17,563.70 L218.85,562.87 L219.52,562.11 L220.19,561.42 L220.86,560.82 L221.54,560.29 L222.21,559.84 L222.88,559.47 L223.55,559.19 L224.22,558.98 L224.90,558.86 L225.57,558.82 L226.24,558.87 L226.91,558.99 L227.58,559.20 L228.26,559.50 L228.93,559.87 L229.60,560.32 L230.27,560.86 L230.94,561.47 L231.62,562.16 L232.29,562.93 L232.96,563.77 L233.63,564.68 L234.30,565.67 L234.98,566.72 L235.65,567.84 L236.32,569.03 L236.99,570.28 L237.67,571.60 L238.34,572.97 L239.01,574.39 L239.68,575.87 L240.35,577.40 L241.03,578.98 L241.70,580.60 L242.37,582.27 L243.04,583.98 L243.71,585.72 L244.39,587.50 L245.06,589.31 L245.73,591.14 L246.40,593.01 L247.07,594.89 L247.75,596.80 L248.42,598.72 L249.09,600.66 L249.76,602.61 L250.43,604.56 L251.11,606.53 L251.78,608.50 L252.45,610.47 L253.12,612.43 L253.79,614.40 L254.47,616.36 L255.14,618.31 L255.81,620.25 L256.48,622.18 L257.16,624.09 L257.83,625.99 L258.50,627.87 L259.17,629.73 L259.84,631.57 L260.52,633.38 L261.19,635.17 L261.86,636.93 L262.53,638.67 L263.20,640.38 L263.88,642.06 L264.55,643.70 L265.22,645.32 L265.89,646.90 L266.56,648.46 L267.24,649.97 L267.91,651.45 L268.58,652.90 L269.25,654.31 L269.92,655.69 L270.60,657.03 L271.27,658.34 L271.94,659.61 L272.61,660.84 L273.29,662.04 L273.96,663.20 L274.63,664.33 L275.30,665.42 L275.97,666.47 L276.65,667.49 L277.32,668.48 L277.99,669.43 L278.66,670.35 L279.33,671.23 L280.01,672.09 L280.68,672.91 L281.35,673.70 L282.02,674.46 L282.69,675.19 L283.37,675.89 L284.04,676.56 L284.71,677.20 L285.38,677.82 L286.05,678.41 L286.73,678.97 L287.40,679.51 L288.07,680.02 L288.74,680.52 L289.42,680.98 L290.09,681.43 L290.76,681.86 L291.43,682.26 L292.10,682.65 L292.78,683.01 L293.45,683.36 L294.12,683.69 L294.79,684.01 L295.46,684.30 L296.14,684.59 L296.81,684.85 L297.48,685.11 L298.15,685.35 L298.82,685.57 L299.50,685.79 L300.17,685.99 L300.84,686.18 L301.51,686.36 L302.18,686.53 L302.86,686.69 L303.53,686.84 L304.20,686.98 L304.87,687.12 L305.54,687.25 L306.22,687.36 L306.89,687.48 L307.56,687.58 L308.23,687.68 L308.91,687.78 L309.58,687.86 L310.25,687.95 L310.92,688.02 L311.59,688.10 L312.27,688.17 L312.94,688.23 L313.61,688.29 L314.28,688.35 L314.95,688.40 L315.63,688.45 L316.30,688.50 L316.97,688.55 L317.64,688.59 L318.31,688.63 L318.99,688.67 L319.66,688.70 L320.33,688.74 L321.00,688.77 L321.67,688.80 L322.35,688.83 L323.02,688.85 L323.69,688.88 L324.36,688.90 L325.04,688.93 L325.71,688.95 L326.38,688.97 L327.05,688.99 L327.72,689.01 L328.40,689.03 L329.07,689.05 L329.74,689.06 L330.41,689.08 L331.08,689.10 L331.76,689.11 L332.43,689.13 L333.10,689.14" stroke="#1c1c1c" stroke-width="0.9" fill="none" stroke-linejoin="round"/>
<path d="M51.50,685.90 L52.17,685.90 L52.84,685.90 L53.52,685.90 L54.19,685.89 L54.86,685.89 L55.53,685.89 L56.20,685.89 L56.88,685.89 L57.55,685.88 L58.22,685.88 L58.89,685.88 L59.56,685.87 L60.24,685.86 L60.91,685.86 L61.58,685.85 L62.25,685.84 L62.93,685.83 L63.60,685.82 L64.27,685.81 L64.94,685.80 L65.61,685.79 L66.29,685.78 L66.96,685.76 L67.63,685.75 L68.30,685.73 L68.97,685.71 L69.65,685.69 L70.32,685.67 L70.99,685.64 L71.66,685.62 L72.33,685.59 L73.01,685.56 L73.68,685.53 L74.35,685.50 L75.02,685.46 L75.69,685.43 L76.37,685.39 L77.04,685.35 L77.71,685.30 L78.38,685.25 L79.06,685.20 L79.73,685.15 L80.40,685.09 L81.07,685.03 L81.74,684.97 L82.42,684.91 L83.09,684.84 L83.76,684.76 L84.43,684.68 L85.10,684.60 L85.78,684.52 L86.45,684.43 L87.12,684.33 L87.79,684.23 L88.46,684.13 L89.14,684.02 L89.81,683.90 L90.48,683.78 L91.15,683.66 L91.82,683.53 L92.50,683.39 L93.17,683.24 L93.84,683.09 L94.51,682.94 L95.18,682.78 L95.86,682.61 L96.53,682.43 L97.20,682.24 L97.87,682.05 L98.55,681.85 L99.22,681.65 L99.89,681.43 L100.56,681.21 L101.23,680.98 L101.91,680.74 L102.58,680.49 L103.25,680.23 L103.92,679.97 L104.59,679.69 L105.27,679.41 L105.94,679.12 L106.61,678.81 L107.28,678.50 L107.95,678.18 L108.63,677.85 L109.30,677.51 L109.97,677.15 L110.64,676.79 L111.31,676.42 L111.99,676.04 L112.66,675.65 L113.33,675.24 L114.00,674.83 L114.68,674.41 L115.35,673.98 L116.02,673.53 L116.69,673.08 L117.36,672.62 L118.04,672.14 L118.71,671.66 L119.38,671.17 L120.05,670.66 L120.72,670.15 L121.40,669.63 L122.07,669.10 L122.74,668.56 L123.41,668.01 L124.08,667.45 L124.76,666.88 L125.43,666.31 L126.10,665.72 L126.77,665.13 L127.44,664.53 L128.12,663.93 L128.79,663.31 L129.46,662.70 L130.13,662.07 L130.81,661.44 L131.48,660.80 L132.15,660.16 L132.82,659.51 L133.49,658.86 L134.17,658.20 L134.84,657.54 L135.51,656.87 L136.18,656.21 L136.85,655.54 L137.53,654.86 L138.20,654.19 L138.87,653.52 L139.54,652.84 L140.21,652.16 L140.89,651.48 L141.56,650.81 L142.23,650.13 L142.90,649.45 L143.57,648.78 L144.25,648.10 L144.92,647.43 L145.59,646.76 L146.26,646.09 L146.93,645.43 L147.61,644.76 L148.28,644.10 L148.95,643.45 L149.62,642.79 L150.30,642.14 L150.97,641.50 L151.64,640.86 L152.31,640.22 L152.98,639.58 L153.66,638.95 L154.33,638.32 L155.00,637.70 L155.67,637.08 L156.34,636.46 L157.02,635.85 L157.69,635.24 L158.36,634.63 L159.03,634.02 L159.70,633.42 L160.38,632.82 L161.05,632.22 L161.72,631.62 L162.39,631.01 L163.06,630.41 L163.74,629.81 L164.41,629.21 L165.08,628.61 L165.75,628.00 L166.43,627.39 L167.10,626.77 L167.77,626.15 L168.44,625.52 L169.11,624.89 L169.79,624.25 L170.46,623.60 L171.13,622.94 L171.80,622.28 L172.47,621.60 L173.15,620.91 L173.82,620.21 L174.49,619.49 L175.16,618.76 L175.83,618.01 L176.51,617.25 L177.18,616.47 L177.85,615.68 L178.52,614.86 L179.19,614.03 L179.87,613.18 L180.54,612.30 L181.21,611.41 L181.88,610.50 L182.55,609.56 L183.23,608.60 L183.90,607.62 L184.57,606.61 L185.24,605.58 L185.92,604.53 L186.59,603.46 L187.26,602.36 L187.93,601.24 L188.60,600.10 L189.28,598.93 L189.95,597.74 L190.62,596.53 L191.29,595.30 L191.96,594.05 L192.64,592.78 L193.31,591.49 L193.98,590.18 L194.65,588.86 L195.32,587.52 L196.00,586.17 L196.67,584.81 L197.34,583.43 L198.01,582.05 L198.68,580.66 L199.36,579.27 L200.03,577.87 L200.70,576.48 L201.37,575.08 L202.05,573.69 L202.72,572.31 L203.39,570.93 L204.06,569.57 L204.73,568.22 L205.41,566.89 L206.08,565.58 L206.75,564.29 L207.42,563.03 L208.09,561.80 L208.77,560.59 L209.44,559.43 L210.11,558.30 L210.78,557.21 L211.45,556.16 L212.13,555.16 L212.80,554.21 L213.47,553.31 L214.14,552.46 L214.81,551.67 L215.49,550.93 L216.16,550.26 L216.83,549.65 L217.50,549.11 L218.17,548.63 L218.85,548.23 L219.52,547.89 L220.19,547.62 L220.86,547.43 L221.54,547.31 L222.21,547.27 L222.88,547.30 L223.55,547.41 L224.22,547.60 L224.90,547.86 L225.57,548.20 L226.24,548.62 L226.91,549.11 L227.58,549.68 L228.26,550.32 L228.93,551.04 L229.60,551.84 L230.27,552.70 L230.94,553.64 L231.62,554.64 L232.29,555.72 L232.96,556.86 L233.63,558.06 L234.30,559.33 L234.98,560.66 L235.65,562.04 L236.32,563.49 L236.99,564.98 L237.67,566.53 L238.34,568.13 L239.01,569.78 L239.68,571.47 L240.35,573.20 L241.03,574.98 L241.70,576.78 L242.37,578.63 L243.04,580.50 L243.71,582.41 L244.39,584.34 L245.06,586.29 L245.73,588.27 L246.40,590.26 L247.07,592.27 L247.75,594.30 L248.42,596.33 L249.09,598.38 L249.76,600.42 L250.43,602.48 L251.11,604.53 L251.78,606.58 L252.45,608.63 L253.12,610.68 L253.79,612.71 L254.47,614.74 L255.14,616.75 L255.81,618.75 L256.48,620.73 L257.16,622.70 L257.83,624.64 L258.50,626.57 L259.17,628.47 L259.84,630.35 L260.52,632.20 L261.19,634.03 L261.86,635.82 L262.53,637.59 L263.20,639.33 L263.88,641.03 L264.55,642.71 L265.22,644.35 L265.89,645.95 L266.56,647.53 L267.24,649.06 L267.91,650.56 L268.58,652.03 L269.25,653.46 L269.92,654.85 L270.60,656.21 L271.27,657.53 L271.94,658.81 L272.61,660.06 L273.29,661.26 L273.96,662.44 L274.63,663.57 L275.30,664.67 L275.97,665.74 L276.65,666.77 L277.32,667.76 L277.99,668.72 L278.66,669.64 L279.33,670.54 L280.01,671.40 L280.68,672.22 L281.35,673.02 L282.02,673.78 L282.69,674.52 L283.37,675.22 L284.04,675.90 L284.71,676.54 L285.38,677.16 L286.05,677.76 L286.73,678.32 L287.40,678.87 L288.07,679.38 L288.74,679.88 L289.42,680.35 L290.09,680.80 L290.76,681.23 L291.43,681.63 L292.10,682.02 L292.78,682.39 L293.45,682.74 L294.12,683.07 L294.79,683.39 L295.46,683.69 L296.14,683.97 L296.81,684.24 L297.48,684.50 L298.15,684.74 L298.82,684.96 L299.50,685.18 L300.17,685.38 L300.84,685.58 L301.51,685.76 L302.18,685.93 L302.86,686.09 L303.53,686.24 L304.20,686.39 L304.87,686.52 L305.54,686.65 L306.22,686.77 L306.89,686.88 L307.56,686.99 L308.23,687.09 L308.91,687.19 L309.58,687.27 L310.25,687.36 L310.92,687.44 L311.59,687.51 L312.27,687.58 L312.94,687.65 L313.61,687.71 L314.28,687.77 L314.95,687.82 L315.63,687.87 L316.30,687.92 L316.97,687.97 L317.64,688.01 L318.31,688.05 L318.99,688.09 L319.66,688.12 L320.33,688.16 L321.00,688.19 L321.67,688.22 L322.35,688.25 L323.02,688.28 L323.69,688.31 L324.36,688.33 L325.04,688.35 L325.71,688.38 L326.38,688.40 L327.05,688.42 L327.72,688.44 L328.40,688.46 L329.07,688.48 L329.74,688.50 L330.41,688.51 L331.08,688.53 L331.76,688.54 L332.43,688.56 L333.10,688.58" stroke="#2b2bf0" stroke-width="0.9" fill="none" stroke-linejoin="round"/>
<text x="218.8" y="535.2" class="pk">O1s</text>
<text x="317.6" y="524.2" class="pl">(e)</text>
<path d="M402.8,512.4 V719 H681.4" stroke="#222" stroke-width="1" fill="none"/>
<path d="M402.50,719 V723 M448.98,719 V723 M495.47,719 V723 M541.95,719 V723 M588.43,719 V723 M634.92,719 V723 M681.40,719 V723 M425.74,719 V721 M472.23,719 V721 M518.71,719 V721 M565.19,719 V721 M611.67,719 V721 M658.16,719 V721 M398.8,709.00 H402.8 M398.8,689.34 H402.8 M398.8,669.68 H402.8 M398.8,650.02 H402.8 M398.8,630.36 H402.8 M398.8,610.70 H402.8 M398.8,591.04 H402.8 M398.8,571.38 H402.8 M398.8,551.72 H402.8 M398.8,532.06 H402.8 M398.8,512.40 H402.8 M400.8,718.83 H402.8 M400.8,699.17 H402.8 M400.8,679.51 H402.8 M400.8,659.85 H402.8 M400.8,640.19 H402.8 M400.8,620.53 H402.8 M400.8,600.87 H402.8 M400.8,581.21 H402.8 M400.8,561.55 H402.8 M400.8,541.89 H402.8 M400.8,522.23 H402.8" stroke="#222" stroke-width="1" fill="none"/>
<text x="402.50" y="733" class="tk" text-anchor="middle">1200</text>
<text x="448.98" y="733" class="tk" text-anchor="middle">1000</text>
<text x="495.47" y="733" class="tk" text-anchor="middle">800</text>
<text x="541.95" y="733" class="tk" text-anchor="middle">600</text>
<text x="588.43" y="733" class="tk" text-anchor="middle">400</text>
<text x="634.92" y="733" class="tk" text-anchor="middle">200</text>
<text x="681.40" y="733" class="tk" text-anchor="middle">0</text>
<text x="395.30" y="712.00" class="tk" text-anchor="end">0</text>
<text x="395.30" y="692.34" class="tk" text-anchor="end">50000</text>
<text x="395.30" y="672.68" class="tk" text-anchor="end">100000</text>
<text x="395.30" y="653.02" class="tk" text-anchor="end">150000</text>
<text x="395.30" y="633.36" class="tk" text-anchor="end">200000</text>
<text x="395.30" y="613.70" class="tk" text-anchor="end">250000</text>
<text x="395.30" y="594.04" class="tk" text-anchor="end">300000</text>
<text x="395.30" y="574.38" class="tk" text-anchor="end">350000</text>
<text x="395.30" y="554.72" class="tk" text-anchor="end">400000</text>
<text x="395.30" y="535.06" class="tk" text-anchor="end">450000</text>
<text x="395.30" y="515.40" class="tk" text-anchor="end">500000</text>
<text x="542.10" y="751.5" class="ti" text-anchor="middle">Binding energy (eV)</text>
<text transform="translate(357.9,607.6) rotate(-90)" x="0" y="0" class="ti" text-anchor="middle">Counts /s</text>
<path d="M402.10,626.00 L403.20,630.00 L404.40,633.90 L405.27,633.85 L406.14,634.43 L407.01,634.49 L407.89,634.99 L408.76,635.25 L409.63,634.88 L410.50,635.60 L411.36,634.87 L412.23,635.59 L413.09,634.76 L413.95,634.54 L414.82,635.19 L415.68,634.42 L416.55,634.63 L417.41,634.05 L418.27,634.03 L419.14,633.31 L420.00,633.50 L420.83,633.40 L421.66,633.40 L422.49,632.78 L423.32,632.77 L424.16,632.44 L424.99,631.52 L425.82,632.03 L426.65,631.60 L427.48,631.03 L428.31,630.48 L429.14,631.15 L429.98,630.47 L430.81,630.49 L431.64,630.42 L432.47,629.99 L433.30,629.50 L434.50,631.00 L435.40,633.75 L436.30,636.50 L437.10,600.00 L437.70,585.20 L438.30,600.00 L438.90,633.90 L439.77,640.20 L440.63,645.45 L441.50,651.40 L443.05,600.00 L443.30,550.70 L443.55,600.00 L444.70,658.40 L445.56,659.09 L446.42,659.06 L447.28,659.96 L448.14,660.26 L449.00,660.20 L449.83,659.36 L450.67,659.00 L451.50,659.00 L452.45,658.10 L453.40,657.20 L454.20,659.60 L455.00,662.00 L455.95,663.25 L456.90,664.50 L457.71,664.08 L458.52,664.80 L459.33,664.11 L460.14,664.21 L460.96,663.74 L461.77,663.86 L462.58,663.62 L463.39,663.48 L464.20,663.63 L465.01,663.52 L465.82,663.76 L466.63,663.41 L467.44,663.58 L468.26,663.39 L469.07,663.43 L469.88,662.97 L470.69,662.30 L471.50,662.96 L472.31,662.97 L473.12,662.80 L473.93,662.32 L474.74,662.37 L475.56,661.71 L476.37,662.29 L477.18,661.90 L477.99,661.47 L478.80,661.60 L479.61,660.92 L480.42,661.60 L481.23,661.55 L482.05,660.36 L482.86,660.95 L483.67,660.32 L484.48,659.84 L485.29,659.80 L486.10,660.13 L486.92,660.05 L487.73,658.94 L488.54,659.37 L489.35,658.55 L490.16,659.09 L490.97,658.47 L491.78,658.88 L492.60,658.79 L493.41,658.08 L494.22,658.42 L495.03,657.47 L495.84,657.02 L496.65,657.39 L497.47,656.57 L498.28,656.56 L499.09,656.59 L499.90,656.50 L500.74,656.48 L501.58,655.84 L502.42,655.57 L503.27,656.34 L504.11,655.59 L504.95,656.15 L505.79,655.94 L506.63,655.23 L507.48,655.18 L508.32,655.11 L509.16,655.10 L510.00,654.80 L510.98,654.26 L511.95,653.57 L512.92,652.98 L513.90,652.20 L514.70,652.54 L515.50,651.93 L516.30,651.70 L517.10,651.88 L517.90,651.50 L518.88,651.39 L519.85,651.63 L520.82,652.55 L521.80,652.20 L522.70,651.79 L523.60,651.39 L524.50,650.90 L525.37,649.50 L526.23,649.07 L527.10,648.30 L528.40,649.60 L529.40,653.20 L530.40,656.80 L531.27,657.32 L532.13,657.14 L533.00,658.10 L533.98,658.73 L534.95,659.25 L535.92,659.12 L536.90,660.10 L537.73,659.74 L538.55,659.06 L539.38,658.80 L540.20,658.10 L541.03,657.79 L541.85,658.03 L542.67,657.91 L543.50,657.50 L544.20,652.00 L544.80,647.90 L545.30,652.00 L545.70,657.50 L546.60,657.80 L547.50,658.10 L548.45,662.05 L549.40,666.00 L550.70,664.70 L552.00,669.90 L552.90,670.27 L553.80,671.22 L554.70,672.60 L556.30,675.20 L557.20,660.00 L557.70,648.60 L558.30,660.00 L559.30,675.80 L560.25,675.50 L561.20,675.20 L562.20,675.85 L563.20,676.50 L564.60,660.00 L565.50,646.30 L566.50,665.00 L567.60,691.60 L568.90,692.30 L570.10,685.00 L570.70,681.80 L571.40,688.00 L572.80,700.20 L573.72,700.64 L574.63,701.21 L575.55,700.68 L576.47,701.15 L577.38,701.55 L578.30,701.70 L579.10,701.49 L579.91,701.54 L580.71,701.47 L581.51,701.53 L582.32,701.77 L583.12,701.44 L583.93,701.51 L584.73,701.94 L585.53,701.11 L586.34,701.70 L587.14,701.88 L587.94,701.40 L588.75,701.30 L589.55,701.93 L590.36,701.30 L591.16,701.24 L591.96,701.50 L592.77,701.78 L593.57,701.12 L594.37,701.36 L595.18,701.36 L595.98,701.90 L596.79,701.46 L597.59,701.91 L598.39,701.15 L599.20,701.33 L600.00,701.50 L600.82,701.59 L601.64,701.78 L602.45,701.23 L603.27,700.92 L604.09,700.73 L604.91,701.11 L605.72,700.67 L606.54,701.27 L607.36,701.24 L608.18,700.45 L608.99,700.48 L609.81,700.99 L610.63,700.74 L611.45,700.85 L612.26,700.27 L613.08,699.96 L613.90,700.30 L614.90,697.50 L615.90,700.30 L616.73,700.04 L617.56,700.56 L618.39,699.96 L619.22,700.01 L620.05,700.06 L620.88,700.04 L621.71,699.99 L622.54,700.53 L623.36,699.66 L624.19,699.46 L625.02,700.46 L625.85,700.37 L626.68,700.45 L627.51,699.82 L628.34,700.35 L629.17,700.30 L630.00,699.80 L630.83,699.46 L631.66,699.99 L632.48,700.05 L633.31,699.82 L634.14,699.63 L634.97,699.33 L635.79,699.35 L636.62,699.19 L637.45,698.97 L638.28,699.51 L639.11,699.14 L639.93,699.67 L640.76,698.79 L641.59,699.70 L642.42,699.43 L643.24,699.64 L644.07,699.58 L644.90,699.10 L645.93,698.51 L646.97,697.12 L648.00,696.00 L648.80,691.00 L649.50,696.00 L650.30,699.50 L651.19,698.89 L652.07,699.63 L652.96,698.92 L653.84,698.99 L654.73,699.32 L655.61,699.10 L656.50,699.00 L657.60,700.56 L658.70,702.30 L659.80,692.00 L660.60,684.10 L661.60,692.00 L663.10,706.00 L663.92,706.48 L664.74,706.12 L665.56,705.83 L666.38,705.73 L667.19,706.40 L668.01,705.97 L668.83,706.31 L669.65,705.84 L670.47,705.67 L671.29,706.04 L672.11,706.35 L672.93,705.64 L673.74,706.32 L674.56,706.46 L675.38,706.34 L676.20,706.00 L676.80,704.50 L677.80,706.00 L678.60,700.00 L679.20,695.00 L679.80,700.00 L680.70,704.45 L681.60,708.90" stroke="#ee1818" stroke-width="1.0" fill="none" stroke-linejoin="round"/>
<circle cx="443.3" cy="550.1" r="2.4" fill="#800080"/>
<circle cx="499.9" cy="655.9" r="2.4" fill="#0000ff"/>
<circle cx="557.7" cy="648.3" r="2.4" fill="#ff0000"/>
<circle cx="614.9" cy="695.3" r="2.4" fill="#000"/>
<text x="431.2" y="542.4" class="pk" style="fill:#8428c8;stroke:#8428c8">Zn2p3</text>
<text x="490.9" y="646.2" class="pk" style="fill:#2020f0;stroke:#2020f0">Co2p</text>
<text x="550.7" y="640.4" class="pk" style="fill:#ff0000;stroke:#ff0000">O1s</text>
<text x="606.9" y="686.3" class="pk">C1s</text>
<text x="661.7" y="527.2" class="pl">(f)</text>
<path d="M222.5,768.5 V973.1 H499.6" stroke="#222" stroke-width="1" fill="none"/>
<path d="M251.80,973.1 V977.1 M293.84,973.1 V977.1 M335.88,973.1 V977.1 M377.92,973.1 V977.1 M419.96,973.1 V977.1 M462.00,973.1 V977.1 M230.78,973.1 V975.1 M272.82,973.1 V975.1 M314.86,973.1 V975.1 M356.90,973.1 V975.1 M398.94,973.1 V975.1 M440.98,973.1 V975.1 M483.02,973.1 V975.1 M218.5,973.10 H222.5 M218.5,921.95 H222.5 M218.5,870.80 H222.5 M218.5,819.65 H222.5 M218.5,768.50 H222.5 M220.5,947.52 H222.5 M220.5,896.38 H222.5 M220.5,845.23 H222.5 M220.5,794.08 H222.5" stroke="#222" stroke-width="1" fill="none"/>
<text x="251.80" y="987.1" class="tk" text-anchor="middle">805</text>
<text x="293.84" y="987.1" class="tk" text-anchor="middle">800</text>
<text x="335.88" y="987.1" class="tk" text-anchor="middle">795</text>
<text x="377.92" y="987.1" class="tk" text-anchor="middle">790</text>
<text x="419.96" y="987.1" class="tk" text-anchor="middle">785</text>
<text x="462.00" y="987.1" class="tk" text-anchor="middle">780</text>
<text x="215.00" y="976.10" class="tk" text-anchor="end">13000</text>
<text x="215.00" y="924.95" class="tk" text-anchor="end">13500</text>
<text x="215.00" y="873.80" class="tk" text-anchor="end">14000</text>
<text x="215.00" y="822.65" class="tk" text-anchor="end">14500</text>
<text x="215.00" y="771.50" class="tk" text-anchor="end">15000</text>
<text x="361.05" y="1005.6" class="ti" text-anchor="middle">Binding energy (eV)</text>
<text transform="translate(181.8,865.5) rotate(-90)" x="0" y="0" class="ti" text-anchor="middle">Counts /s</text>
<path d="M229.40,914.07 L229.93,913.92 L230.46,913.76 L230.99,913.59 L231.51,913.42 L232.04,913.24 L232.57,913.05 L233.10,912.85 L233.63,912.64 L234.16,912.42 L234.68,912.19 L235.21,911.95 L235.74,911.70 L236.27,911.44 L236.80,911.17 L237.33,910.89 L237.86,910.60 L238.38,910.31 L238.91,910.00 L239.44,909.69 L239.97,909.37 L240.50,909.05 L241.03,908.72 L241.55,908.38 L242.08,908.04 L242.61,907.70 L243.14,907.35 L243.67,907.00 L244.20,906.66 L244.73,906.31 L245.25,905.97 L245.78,905.63 L246.31,905.30 L246.84,904.97 L247.37,904.65 L247.90,904.34 L248.42,904.04 L248.95,903.75 L249.48,903.48 L250.01,903.22 L250.54,902.97 L251.07,902.75 L251.60,902.54 L252.12,902.34 L252.65,902.17 L253.18,902.02 L253.71,901.88 L254.24,901.77 L254.77,901.68 L255.29,901.61 L255.82,901.57 L256.35,901.54 L256.88,901.54 L257.41,901.56 L257.94,901.60 L258.47,901.66 L258.99,901.74 L259.52,901.84 L260.05,901.96 L260.58,902.10 L261.11,902.25 L261.64,902.42 L262.16,902.60 L262.69,902.80 L263.22,903.01 L263.75,903.23 L264.28,903.45 L264.81,903.69 L265.34,903.93 L265.86,904.18 L266.39,904.43 L266.92,904.69 L267.45,904.95 L267.98,905.20 L268.51,905.46 L269.03,905.72 L269.56,905.97 L270.09,906.21 L270.62,906.46 L271.15,906.70 L271.68,906.93 L272.21,907.15 L272.73,907.37 L273.26,907.57 L273.79,907.77 L274.32,907.96 L274.85,908.14 L275.38,908.31 L275.90,908.48 L276.43,908.63 L276.96,908.77 L277.49,908.90 L278.02,909.03 L278.55,909.14 L279.07,909.24 L279.60,909.34 L280.13,909.42 L280.66,909.50 L281.19,909.57 L281.72,909.63 L282.25,909.68 L282.77,909.73 L283.30,909.77 L283.83,909.80 L284.36,909.82 L284.89,909.84 L285.42,909.86 L285.94,909.87 L286.47,909.87 L287.00,909.87" stroke="#ff20ff" stroke-width="0.9" fill="none" stroke-linejoin="round"/>
<path d="M246.84,913.28 L247.37,913.19 L247.90,913.09 L248.42,912.99 L248.95,912.88 L249.48,912.77 L250.01,912.64 L250.54,912.51 L251.07,912.38 L251.60,912.23 L252.12,912.07 L252.65,911.90 L253.18,911.73 L253.71,911.54 L254.24,911.33 L254.77,911.12 L255.29,910.89 L255.82,910.65 L256.35,910.39 L256.88,910.12 L257.41,909.84 L257.94,909.54 L258.47,909.22 L258.99,908.88 L259.52,908.53 L260.05,908.16 L260.58,907.78 L261.11,907.38 L261.64,906.96 L262.16,906.53 L262.69,906.08 L263.22,905.61 L263.75,905.13 L264.28,904.64 L264.81,904.13 L265.34,903.61 L265.86,903.08 L266.39,902.54 L266.92,901.99 L267.45,901.44 L267.98,900.88 L268.51,900.32 L269.03,899.75 L269.56,899.19 L270.09,898.63 L270.62,898.08 L271.15,897.53 L271.68,896.99 L272.21,896.47 L272.73,895.96 L273.26,895.46 L273.79,894.99 L274.32,894.53 L274.85,894.10 L275.38,893.69 L275.90,893.31 L276.43,892.96 L276.96,892.64 L277.49,892.35 L278.02,892.10 L278.55,891.88 L279.07,891.69 L279.60,891.55 L280.13,891.44 L280.66,891.36 L281.19,891.33 L281.72,891.33 L282.25,891.37 L282.77,891.44 L283.30,891.56 L283.83,891.70 L284.36,891.88 L284.89,892.10 L285.42,892.34 L285.94,892.62 L286.47,892.92 L287.00,893.25 L287.53,893.61 L288.06,893.98 L288.59,894.38 L289.12,894.79 L289.64,895.22 L290.17,895.66 L290.70,896.11 L291.23,896.58 L291.76,897.04 L292.29,897.51 L292.81,897.99 L293.34,898.46 L293.87,898.93 L294.40,899.40 L294.93,899.86 L295.46,900.32 L295.99,900.76 L296.51,901.20 L297.04,901.62 L297.57,902.04 L298.10,902.43 L298.63,902.82 L299.16,903.19 L299.68,903.54 L300.21,903.88 L300.74,904.20 L301.27,904.50 L301.80,904.79 L302.33,905.06 L302.86,905.32 L303.38,905.55 L303.91,905.77 L304.44,905.98 L304.97,906.17 L305.50,906.34 L306.03,906.50 L306.55,906.65 L307.08,906.78 L307.61,906.90 L308.14,907.01 L308.67,907.10 L309.20,907.18 L309.73,907.26 L310.25,907.32 L310.78,907.38 L311.31,907.42 L311.84,907.46 L312.37,907.49 L312.90,907.51 L313.42,907.53 L313.95,907.54 L314.48,907.54" stroke="#3a3ab4" stroke-width="0.9" fill="none" stroke-linejoin="round"/>
<path d="M277.49,910.67 L278.02,910.58 L278.55,910.49 L279.07,910.39 L279.60,910.28 L280.13,910.17 L280.66,910.05 L281.19,909.92 L281.72,909.79 L282.25,909.64 L282.77,909.49 L283.30,909.33 L283.83,909.16 L284.36,908.98 L284.89,908.79 L285.42,908.59 L285.94,908.37 L286.47,908.14 L287.00,907.90 L287.53,907.64 L288.06,907.37 L288.59,907.09 L289.12,906.79 L289.64,906.48 L290.17,906.14 L290.70,905.80 L291.23,905.43 L291.76,905.05 L292.29,904.66 L292.81,904.25 L293.34,903.82 L293.87,903.37 L294.40,902.91 L294.93,902.43 L295.46,901.94 L295.99,901.44 L296.51,900.92 L297.04,900.39 L297.57,899.85 L298.10,899.29 L298.63,898.73 L299.16,898.16 L299.68,897.58 L300.21,897.00 L300.74,896.42 L301.27,895.83 L301.80,895.24 L302.33,894.66 L302.86,894.08 L303.38,893.50 L303.91,892.94 L304.44,892.38 L304.97,891.84 L305.50,891.31 L306.03,890.80 L306.55,890.30 L307.08,889.83 L307.61,889.38 L308.14,888.95 L308.67,888.55 L309.20,888.18 L309.73,887.84 L310.25,887.53 L310.78,887.25 L311.31,887.00 L311.84,886.79 L312.37,886.62 L312.90,886.48 L313.42,886.37 L313.95,886.31 L314.48,886.28 L315.01,886.29 L315.54,886.33 L316.07,886.41 L316.60,886.53 L317.12,886.68 L317.65,886.86 L318.18,887.08 L318.71,887.32 L319.24,887.60 L319.77,887.91 L320.29,888.24 L320.82,888.60 L321.35,888.98 L321.88,889.38 L322.41,889.80 L322.94,890.23 L323.47,890.69 L323.99,891.15 L324.52,891.62 L325.05,892.11 L325.58,892.60 L326.11,893.09 L326.64,893.59 L327.16,894.09 L327.69,894.58 L328.22,895.08 L328.75,895.56 L329.28,896.05 L329.81,896.52 L330.34,896.99 L330.86,897.44 L331.39,897.89 L331.92,898.32 L332.45,898.74 L332.98,899.14 L333.51,899.53 L334.03,899.90 L334.56,900.26 L335.09,900.61 L335.62,900.93 L336.15,901.24 L336.68,901.54 L337.21,901.81 L337.73,902.07 L338.26,902.32 L338.79,902.55 L339.32,902.76 L339.85,902.96 L340.38,903.14 L340.90,903.31 L341.43,903.46 L341.96,903.60 L342.49,903.73 L343.02,903.85 L343.55,903.95 L344.08,904.05 L344.60,904.13 L345.13,904.20 L345.66,904.27 L346.19,904.32 L346.72,904.37 L347.25,904.41 L347.77,904.44 L348.30,904.46 L348.83,904.48 L349.36,904.49 L349.89,904.50 L350.42,904.50" stroke="#4848f4" stroke-width="0.9" fill="none" stroke-linejoin="round"/>
<path d="M297.57,908.98 L298.10,908.89 L298.63,908.78 L299.16,908.68 L299.68,908.56 L300.21,908.44 L300.74,908.30 L301.27,908.16 L301.80,908.01 L302.33,907.85 L302.86,907.67 L303.38,907.48 L303.91,907.28 L304.44,907.07 L304.97,906.84 L305.50,906.59 L306.03,906.32 L306.55,906.04 L307.08,905.74 L307.61,905.42 L308.14,905.08 L308.67,904.72 L309.20,904.33 L309.73,903.93 L310.25,903.50 L310.78,903.04 L311.31,902.57 L311.84,902.07 L312.37,901.54 L312.90,901.00 L313.42,900.43 L313.95,899.83 L314.48,899.22 L315.01,898.58 L315.54,897.92 L316.07,897.24 L316.60,896.55 L317.12,895.84 L317.65,895.11 L318.18,894.37 L318.71,893.63 L319.24,892.87 L319.77,892.11 L320.29,891.34 L320.82,890.58 L321.35,889.82 L321.88,889.06 L322.41,888.31 L322.94,887.58 L323.47,886.86 L323.99,886.16 L324.52,885.48 L325.05,884.83 L325.58,884.21 L326.11,883.62 L326.64,883.06 L327.16,882.54 L327.69,882.06 L328.22,881.62 L328.75,881.23 L329.28,880.89 L329.81,880.59 L330.34,880.34 L330.86,880.15 L331.39,880.01 L331.92,879.92 L332.45,879.88 L332.98,879.90 L333.51,879.97 L334.03,880.09 L334.56,880.26 L335.09,880.49 L335.62,880.76 L336.15,881.07 L336.68,881.43 L337.21,881.84 L337.73,882.28 L338.26,882.76 L338.79,883.27 L339.32,883.82 L339.85,884.39 L340.38,884.98 L340.90,885.60 L341.43,886.24 L341.96,886.89 L342.49,887.55 L343.02,888.22 L343.55,888.89 L344.08,889.57 L344.60,890.24 L345.13,890.91 L345.66,891.58 L346.19,892.23 L346.72,892.88 L347.25,893.51 L347.77,894.13 L348.30,894.73 L348.83,895.31 L349.36,895.87 L349.89,896.41 L350.42,896.93 L350.95,897.43 L351.47,897.90 L352.00,898.35 L352.53,898.78 L353.06,899.18 L353.59,899.56 L354.12,899.92 L354.64,900.25 L355.17,900.56 L355.70,900.85 L356.23,901.11 L356.76,901.36 L357.29,901.58 L357.82,901.79 L358.34,901.98 L358.87,902.15 L359.40,902.30 L359.93,902.43 L360.46,902.56 L360.99,902.66 L361.51,902.76 L362.04,902.84 L362.57,902.91 L363.10,902.97 L363.63,903.02 L364.16,903.06 L364.68,903.09 L365.21,903.11 L365.74,903.13 L366.27,903.14 L366.80,903.15" stroke="#3ca03c" stroke-width="0.9" fill="none" stroke-linejoin="round"/>
<path d="M325.05,906.64 L325.58,906.55 L326.11,906.45 L326.64,906.35 L327.16,906.24 L327.69,906.12 L328.22,906.00 L328.75,905.87 L329.28,905.73 L329.81,905.58 L330.34,905.43 L330.86,905.26 L331.39,905.09 L331.92,904.91 L332.45,904.71 L332.98,904.50 L333.51,904.29 L334.03,904.06 L334.56,903.82 L335.09,903.56 L335.62,903.30 L336.15,903.02 L336.68,902.73 L337.21,902.42 L337.73,902.11 L338.26,901.78 L338.79,901.43 L339.32,901.08 L339.85,900.71 L340.38,900.33 L340.90,899.95 L341.43,899.55 L341.96,899.14 L342.49,898.72 L343.02,898.30 L343.55,897.87 L344.08,897.43 L344.60,896.99 L345.13,896.55 L345.66,896.10 L346.19,895.66 L346.72,895.22 L347.25,894.78 L347.77,894.35 L348.30,893.92 L348.83,893.51 L349.36,893.10 L349.89,892.71 L350.42,892.33 L350.95,891.97 L351.47,891.63 L352.00,891.30 L352.53,890.99 L353.06,890.71 L353.59,890.45 L354.12,890.21 L354.64,890.00 L355.17,889.82 L355.70,889.66 L356.23,889.54 L356.76,889.44 L357.29,889.37 L357.82,889.32 L358.34,889.31 L358.87,889.33 L359.40,889.37 L359.93,889.44 L360.46,889.54 L360.99,889.67 L361.51,889.82 L362.04,890.00 L362.57,890.19 L363.10,890.41 L363.63,890.65 L364.16,890.91 L364.68,891.19 L365.21,891.48 L365.74,891.79 L366.27,892.11 L366.80,892.43 L367.33,892.77 L367.86,893.12 L368.38,893.46 L368.91,893.82 L369.44,894.17 L369.97,894.52 L370.50,894.88 L371.03,895.23 L371.55,895.57 L372.08,895.91 L372.61,896.25 L373.14,896.57 L373.67,896.89 L374.20,897.20 L374.73,897.50 L375.25,897.78 L375.78,898.06 L376.31,898.32 L376.84,898.57 L377.37,898.81 L377.90,899.04 L378.42,899.25 L378.95,899.45 L379.48,899.64 L380.01,899.81 L380.54,899.97 L381.07,900.12 L381.60,900.26 L382.12,900.38 L382.65,900.50 L383.18,900.60 L383.71,900.69 L384.24,900.78 L384.77,900.85 L385.29,900.91 L385.82,900.97 L386.35,901.02 L386.88,901.06 L387.41,901.09 L387.94,901.11 L388.47,901.13 L388.99,901.15 L389.52,901.15 L390.05,901.16" stroke="#9a30d0" stroke-width="0.9" fill="none" stroke-linejoin="round"/>
<path d="M361.51,903.55 L362.04,903.45 L362.57,903.34 L363.10,903.23 L363.63,903.11 L364.16,902.98 L364.68,902.85 L365.21,902.70 L365.74,902.54 L366.27,902.37 L366.80,902.19 L367.33,901.99 L367.86,901.79 L368.38,901.56 L368.91,901.32 L369.44,901.06 L369.97,900.79 L370.50,900.50 L371.03,900.18 L371.55,899.85 L372.08,899.50 L372.61,899.12 L373.14,898.73 L373.67,898.30 L374.20,897.86 L374.73,897.39 L375.25,896.90 L375.78,896.38 L376.31,895.84 L376.84,895.28 L377.37,894.69 L377.90,894.07 L378.42,893.44 L378.95,892.78 L379.48,892.10 L380.01,891.40 L380.54,890.69 L381.07,889.95 L381.60,889.20 L382.12,888.44 L382.65,887.67 L383.18,886.89 L383.71,886.10 L384.24,885.31 L384.77,884.52 L385.29,883.73 L385.82,882.95 L386.35,882.18 L386.88,881.42 L387.41,880.67 L387.94,879.95 L388.47,879.24 L388.99,878.56 L389.52,877.91 L390.05,877.29 L390.58,876.71 L391.11,876.17 L391.64,875.66 L392.16,875.20 L392.69,874.79 L393.22,874.42 L393.75,874.10 L394.28,873.83 L394.81,873.62 L395.34,873.46 L395.86,873.35 L396.39,873.30 L396.92,873.30 L397.45,873.36 L397.98,873.47 L398.51,873.63 L399.03,873.85 L399.56,874.11 L400.09,874.43 L400.62,874.79 L401.15,875.19 L401.68,875.63 L402.21,876.12 L402.73,876.64 L403.26,877.19 L403.79,877.77 L404.32,878.38 L404.85,879.01 L405.38,879.66 L405.90,880.33 L406.43,881.01 L406.96,881.70 L407.49,882.40 L408.02,883.10 L408.55,883.80 L409.08,884.50 L409.60,885.19 L410.13,885.88 L410.66,886.55 L411.19,887.22 L411.72,887.87 L412.25,888.50 L412.77,889.11 L413.30,889.71 L413.83,890.28 L414.36,890.83 L414.89,891.36 L415.42,891.87 L415.95,892.35 L416.47,892.81 L417.00,893.25 L417.53,893.66 L418.06,894.04 L418.59,894.40 L419.12,894.74 L419.64,895.05 L420.17,895.35 L420.70,895.62 L421.23,895.87 L421.76,896.09 L422.29,896.30 L422.82,896.49 L423.34,896.67 L423.87,896.82 L424.40,896.96 L424.93,897.08 L425.46,897.19 L425.99,897.29 L426.51,897.37 L427.04,897.44 L427.57,897.51 L428.10,897.56 L428.63,897.60 L429.16,897.63 L429.69,897.66 L430.21,897.67 L430.74,897.68 L431.27,897.69" stroke="#ff3030" stroke-width="0.9" fill="none" stroke-linejoin="round"/>
<path d="M387.41,901.40 L387.94,901.31 L388.47,901.21 L388.99,901.10 L389.52,900.98 L390.05,900.86 L390.58,900.73 L391.11,900.59 L391.64,900.43 L392.16,900.27 L392.69,900.09 L393.22,899.90 L393.75,899.70 L394.28,899.48 L394.81,899.25 L395.34,898.99 L395.86,898.72 L396.39,898.43 L396.92,898.12 L397.45,897.79 L397.98,897.43 L398.51,897.05 L399.03,896.64 L399.56,896.21 L400.09,895.75 L400.62,895.27 L401.15,894.75 L401.68,894.21 L402.21,893.64 L402.73,893.03 L403.26,892.40 L403.79,891.74 L404.32,891.05 L404.85,890.32 L405.38,889.57 L405.90,888.79 L406.43,887.99 L406.96,887.15 L407.49,886.29 L408.02,885.41 L408.55,884.51 L409.08,883.59 L409.60,882.65 L410.13,881.70 L410.66,880.73 L411.19,879.76 L411.72,878.78 L412.25,877.80 L412.77,876.82 L413.30,875.85 L413.83,874.89 L414.36,873.94 L414.89,873.00 L415.42,872.09 L415.95,871.20 L416.47,870.35 L417.00,869.52 L417.53,868.73 L418.06,867.99 L418.59,867.29 L419.12,866.63 L419.64,866.03 L420.17,865.48 L420.70,864.99 L421.23,864.56 L421.76,864.19 L422.29,863.89 L422.82,863.65 L423.34,863.47 L423.87,863.36 L424.40,863.32 L424.93,863.35 L425.46,863.45 L425.99,863.61 L426.51,863.83 L427.04,864.12 L427.57,864.47 L428.10,864.88 L428.63,865.34 L429.16,865.86 L429.69,866.44 L430.21,867.05 L430.74,867.72 L431.27,868.42 L431.80,869.16 L432.33,869.93 L432.86,870.73 L433.38,871.56 L433.91,872.41 L434.44,873.27 L434.97,874.15 L435.50,875.03 L436.03,875.92 L436.56,876.81 L437.08,877.70 L437.61,878.58 L438.14,879.46 L438.67,880.32 L439.20,881.16 L439.73,881.99 L440.25,882.81 L440.78,883.59 L441.31,884.36 L441.84,885.10 L442.37,885.81 L442.90,886.50 L443.43,887.16 L443.95,887.79 L444.48,888.39 L445.01,888.96 L445.54,889.49 L446.07,890.00 L446.60,890.48 L447.12,890.93 L447.65,891.35 L448.18,891.75 L448.71,892.11 L449.24,892.45 L449.77,892.76 L450.29,893.05 L450.82,893.32 L451.35,893.56 L451.88,893.78 L452.41,893.98 L452.94,894.16 L453.47,894.32 L453.99,894.46 L454.52,894.59 L455.05,894.70 L455.58,894.80 L456.11,894.88 L456.64,894.96 L457.16,895.02 L457.69,895.07 L458.22,895.11 L458.75,895.14 L459.28,895.17 L459.81,895.19 L460.34,895.20" stroke="#a830c8" stroke-width="0.9" fill="none" stroke-linejoin="round"/>
<path d="M414.89,899.07 L415.42,898.97 L415.95,898.86 L416.47,898.74 L417.00,898.62 L417.53,898.48 L418.06,898.34 L418.59,898.18 L419.12,898.01 L419.64,897.82 L420.17,897.62 L420.70,897.39 L421.23,897.15 L421.76,896.89 L422.29,896.60 L422.82,896.29 L423.34,895.95 L423.87,895.59 L424.40,895.19 L424.93,894.76 L425.46,894.29 L425.99,893.78 L426.51,893.24 L427.04,892.65 L427.57,892.01 L428.10,891.33 L428.63,890.60 L429.16,889.82 L429.69,888.98 L430.21,888.09 L430.74,887.13 L431.27,886.12 L431.80,885.05 L432.33,883.91 L432.86,882.72 L433.38,881.45 L433.91,880.12 L434.44,878.73 L434.97,877.27 L435.50,875.75 L436.03,874.16 L436.56,872.51 L437.08,870.81 L437.61,869.04 L438.14,867.22 L438.67,865.35 L439.20,863.43 L439.73,861.46 L440.25,859.46 L440.78,857.43 L441.31,855.36 L441.84,853.28 L442.37,851.18 L442.90,849.08 L443.43,846.97 L443.95,844.87 L444.48,842.79 L445.01,840.73 L445.54,838.70 L446.07,836.72 L446.60,834.79 L447.12,832.91 L447.65,831.10 L448.18,829.37 L448.71,827.71 L449.24,826.16 L449.77,824.70 L450.29,823.34 L450.82,822.10 L451.35,820.99 L451.88,819.99 L452.41,819.13 L452.94,818.40 L453.47,817.81 L453.99,817.36 L454.52,817.06 L455.05,816.90 L455.58,816.89 L456.11,817.02 L456.64,817.30 L457.16,817.72 L457.69,818.28 L458.22,818.98 L458.75,819.81 L459.28,820.77 L459.81,821.85 L460.34,823.05 L460.86,824.36 L461.39,825.78 L461.92,827.29 L462.45,828.89 L462.98,830.57 L463.51,832.32 L464.03,834.13 L464.56,836.00 L465.09,837.91 L465.62,839.86 L466.15,841.85 L466.68,843.85 L467.21,845.86 L467.73,847.88 L468.26,849.89 L468.79,851.89 L469.32,853.88 L469.85,855.84 L470.38,857.78 L470.90,859.67 L471.43,861.53 L471.96,863.34 L472.49,865.10 L473.02,866.81 L473.55,868.46 L474.08,870.05 L474.60,871.58 L475.13,873.05 L475.66,874.46 L476.19,875.80 L476.72,877.08 L477.25,878.29 L477.77,879.43 L478.30,880.51 L478.83,881.53 L479.36,882.49 L479.89,883.38 L480.42,884.22 L480.95,885.00 L481.47,885.72 L482.00,886.40 L482.53,887.02 L483.06,887.59 L483.59,888.11 L484.12,888.59 L484.64,889.03 L485.17,889.43 L485.70,889.79 L486.23,890.12 L486.76,890.42 L487.29,890.68 L487.82,890.92 L488.34,891.13 L488.87,891.32 L489.40,891.48 L489.93,891.62 L490.46,891.75 L490.99,891.86 L491.51,891.95 L492.04,892.02 L492.57,892.09 L493.10,892.14" stroke="#1c1c1c" stroke-width="0.9" fill="none" stroke-linejoin="round"/>
<path d="M229.40,915.11 L493.10,892.83" stroke="#a84cc8" stroke-width="0.85" fill="none" stroke-linejoin="round"/>
<path d="M229.40,973.10 L229.40,915.11" stroke="#b050c8" stroke-width="1.0" fill="none" stroke-linejoin="round"/>
<path d="M493.10,973.10 L493.10,892.83" stroke="#b050c8" stroke-width="1.0" fill="none" stroke-linejoin="round"/>
<path d="M223.20,905.80 L224.40,926.30 L226.30,914.10 L227.40,924.50 L228.40,909.20 L229.40,914.40 L229.40,914.06 L229.93,913.91 L230.46,913.76 L230.99,913.59 L231.51,913.42 L232.04,913.23 L232.57,913.04 L233.10,912.84 L233.63,912.63 L234.16,912.41 L234.68,912.17 L235.21,911.93 L235.74,911.68 L236.27,911.42 L236.80,911.15 L237.33,910.86 L237.86,910.57 L238.38,910.27 L238.91,909.96 L239.44,909.64 L239.97,909.31 L240.50,908.98 L241.03,908.64 L241.55,908.29 L242.08,907.93 L242.61,907.57 L243.14,907.21 L243.67,906.84 L244.20,906.47 L244.73,906.10 L245.25,905.73 L245.78,905.36 L246.31,904.99 L246.84,904.62 L247.37,904.25 L247.90,903.89 L248.42,903.53 L248.95,903.18 L249.48,902.84 L250.01,902.50 L250.54,902.17 L251.07,901.84 L251.60,901.53 L252.12,901.23 L252.65,900.93 L253.18,900.64 L253.71,900.36 L254.24,900.10 L254.77,899.84 L255.29,899.58 L255.82,899.34 L256.35,899.11 L256.88,898.88 L257.41,898.65 L257.94,898.44 L258.47,898.22 L258.99,898.01 L259.52,897.81 L260.05,897.60 L260.58,897.40 L261.11,897.19 L261.64,896.99 L262.16,896.78 L262.69,896.57 L263.22,896.36 L263.75,896.14 L264.28,895.92 L264.81,895.69 L265.34,895.45 L265.86,895.22 L266.39,894.97 L266.92,894.72 L267.45,894.46 L267.98,894.20 L268.51,893.93 L269.03,893.66 L269.56,893.39 L270.09,893.12 L270.62,892.84 L271.15,892.57 L271.68,892.29 L272.21,892.02 L272.73,891.76 L273.26,891.50 L273.79,891.25 L274.32,891.00 L274.85,890.77 L275.38,890.56 L275.90,890.35 L276.43,890.16 L276.96,889.99 L277.49,889.84 L278.02,889.71 L278.55,889.59 L279.07,889.50 L279.60,889.43 L280.13,889.38 L280.66,889.35 L281.19,889.35 L281.72,889.37 L282.25,889.40 L282.77,889.46 L283.30,889.54 L283.83,889.64 L284.36,889.75 L284.89,889.88 L285.42,890.03 L285.94,890.18 L286.47,890.35 L287.00,890.52 L287.53,890.70 L288.06,890.89 L288.59,891.07 L289.12,891.25 L289.64,891.43 L290.17,891.61 L290.70,891.77 L291.23,891.92 L291.76,892.06 L292.29,892.18 L292.81,892.29 L293.34,892.37 L293.87,892.43 L294.40,892.47 L294.93,892.49 L295.46,892.48 L295.99,892.44 L296.51,892.37 L297.04,892.27 L297.57,892.14 L298.10,891.98 L298.63,891.80 L299.16,891.58 L299.68,891.33 L300.21,891.05 L300.74,890.75 L301.27,890.41 L301.80,890.05 L302.33,889.67 L302.86,889.26 L303.38,888.82 L303.91,888.37 L304.44,887.89 L304.97,887.39 L305.50,886.88 L306.03,886.35 L306.55,885.81 L307.08,885.26 L307.61,884.70 L308.14,884.12 L308.67,883.55 L309.20,882.96 L309.73,882.38 L310.25,881.79 L310.78,881.20 L311.31,880.61 L311.84,880.02 L312.37,879.44 L312.90,878.86 L313.42,878.29 L313.95,877.73 L314.48,877.17 L315.01,876.63 L315.54,876.09 L316.07,875.57 L316.60,875.06 L317.12,874.57 L317.65,874.09 L318.18,873.62 L318.71,873.18 L319.24,872.75 L319.77,872.34 L320.29,871.95 L320.82,871.58 L321.35,871.23 L321.88,870.91 L322.41,870.61 L322.94,870.33 L323.47,870.08 L323.99,869.86 L324.52,869.67 L325.05,869.50 L325.58,869.37 L326.11,869.27 L326.64,869.19 L327.16,869.15 L327.69,869.15 L328.22,869.17 L328.75,869.23 L329.28,869.32 L329.81,869.44 L330.34,869.60 L330.86,869.78 L331.39,870.00 L331.92,870.25 L332.45,870.52 L332.98,870.83 L333.51,871.16 L334.03,871.52 L334.56,871.90 L335.09,872.30 L335.62,872.72 L336.15,873.16 L336.68,873.61 L337.21,874.08 L337.73,874.55 L338.26,875.03 L338.79,875.52 L339.32,876.01 L339.85,876.51 L340.38,877.00 L340.90,877.48 L341.43,877.96 L341.96,878.43 L342.49,878.89 L343.02,879.34 L343.55,879.78 L344.08,880.20 L344.60,880.61 L345.13,881.00 L345.66,881.37 L346.19,881.73 L346.72,882.07 L347.25,882.39 L347.77,882.70 L348.30,882.98 L348.83,883.26 L349.36,883.51 L349.89,883.75 L350.42,883.98 L350.95,884.20 L351.47,884.41 L352.00,884.61 L352.53,884.80 L353.06,884.99 L353.59,885.17 L354.12,885.35 L354.64,885.53 L355.17,885.70 L355.70,885.88 L356.23,886.07 L356.76,886.25 L357.29,886.44 L357.82,886.64 L358.34,886.85 L358.87,887.06 L359.40,887.27 L359.93,887.50 L360.46,887.73 L360.99,887.97 L361.51,888.21 L362.04,888.47 L362.57,888.72 L363.10,888.98 L363.63,889.24 L364.16,889.50 L364.68,889.76 L365.21,890.02 L365.74,890.28 L366.27,890.53 L366.80,890.77 L367.33,891.00 L367.86,891.22 L368.38,891.42 L368.91,891.61 L369.44,891.78 L369.97,891.93 L370.50,892.05 L371.03,892.15 L371.55,892.23 L372.08,892.27 L372.61,892.29 L373.14,892.27 L373.67,892.22 L374.20,892.13 L374.73,892.01 L375.25,891.86 L375.78,891.66 L376.31,891.43 L376.84,891.16 L377.37,890.86 L377.90,890.51 L378.42,890.13 L378.95,889.71 L379.48,889.26 L380.01,888.78 L380.54,888.26 L381.07,887.71 L381.60,887.14 L382.12,886.53 L382.65,885.91 L383.18,885.26 L383.71,884.59 L384.24,883.91 L384.77,883.21 L385.29,882.50 L385.82,881.79 L386.35,881.08 L386.88,880.36 L387.41,879.65 L387.94,878.94 L388.47,878.24 L388.99,877.56 L389.52,876.89 L390.05,876.24 L390.58,875.62 L391.11,875.01 L391.64,874.44 L392.16,873.89 L392.69,873.37 L393.22,872.88 L393.75,872.42 L394.28,872.00 L394.81,871.62 L395.34,871.26 L395.86,870.94 L396.39,870.65 L396.92,870.40 L397.45,870.18 L397.98,869.98 L398.51,869.82 L399.03,869.68 L399.56,869.56 L400.09,869.46 L400.62,869.38 L401.15,869.32 L401.68,869.27 L402.21,869.23 L402.73,869.19 L403.26,869.15 L403.79,869.11 L404.32,869.07 L404.85,869.03 L405.38,868.97 L405.90,868.90 L406.43,868.81 L406.96,868.71 L407.49,868.59 L408.02,868.44 L408.55,868.28 L409.08,868.09 L409.60,867.88 L410.13,867.64 L410.66,867.38 L411.19,867.10 L411.72,866.79 L412.25,866.46 L412.77,866.11 L413.30,865.75 L413.83,865.37 L414.36,864.97 L414.89,864.56 L415.42,864.15 L415.95,863.72 L416.47,863.30 L417.00,862.87 L417.53,862.45 L418.06,862.03 L418.59,861.62 L419.12,861.22 L419.64,860.84 L420.17,860.47 L420.70,860.12 L421.23,859.78 L421.76,859.47 L422.29,859.17 L422.82,858.90 L423.34,858.65 L423.87,858.42 L424.40,858.21 L424.93,858.02 L425.46,857.84 L425.99,857.68 L426.51,857.53 L427.04,857.39 L427.57,857.26 L428.10,857.13 L428.63,856.99 L429.16,856.85 L429.69,856.70 L430.21,856.53 L430.74,856.35 L431.27,856.13 L431.80,855.89 L432.33,855.61 L432.86,855.29 L433.38,854.93 L433.91,854.52 L434.44,854.06 L434.97,853.54 L435.50,852.97 L436.03,852.33 L436.56,851.63 L437.08,850.87 L437.61,850.04 L438.14,849.15 L438.67,848.19 L439.20,847.17 L439.73,846.09 L440.25,844.95 L440.78,843.75 L441.31,842.50 L441.84,841.20 L442.37,839.87 L442.90,838.50 L443.43,837.09 L443.95,835.67 L444.48,834.23 L445.01,832.79 L445.54,831.35 L446.07,829.92 L446.60,828.51 L447.12,827.13 L447.65,825.78 L448.18,824.49 L448.71,823.25 L449.24,822.07 L449.77,820.97 L450.29,819.95 L450.82,819.02 L451.35,818.19 L451.88,817.46 L452.41,816.84 L452.94,816.34 L453.47,815.95 L453.99,815.69 L454.52,815.56 L455.05,815.56 L455.58,815.69 L456.11,815.95 L456.64,816.35 L457.16,816.87 L457.69,817.53 L458.22,818.32 L458.75,819.22 L459.28,820.25 L459.81,821.40 L460.34,822.65 L460.86,824.01 L461.39,825.47 L461.92,827.02 L462.45,828.65 L462.98,830.36 L463.51,832.14 L464.03,833.98 L464.56,835.87 L465.09,837.80 L465.62,839.77 L466.15,841.76 L466.68,843.77 L467.21,845.80 L467.73,847.82 L468.26,849.85 L468.79,851.86 L469.32,853.85 L469.85,855.82 L470.38,857.75 L470.90,859.65 L471.43,861.51 L471.96,863.32 L472.49,865.09 L473.02,866.80 L473.55,868.45 L474.08,870.04 L474.60,871.58 L475.13,873.05 L475.66,874.45 L476.19,875.80 L476.72,877.07 L477.25,878.28 L477.77,879.43 L478.30,880.51 L478.83,881.53 L479.36,882.49 L479.89,883.38 L480.42,884.22 L480.95,885.00 L481.47,885.72 L482.00,886.39 L482.53,887.02 L483.06,887.59 L483.59,888.11 L484.12,888.59 L484.64,889.03 L485.17,889.43 L485.70,889.79 L486.23,890.12 L486.76,890.42 L487.29,890.68 L487.82,890.92 L488.34,891.13 L488.87,891.32 L489.40,891.48 L489.93,891.62 L490.46,891.75 L490.99,891.86 L491.51,891.95 L492.04,892.02 L492.57,892.09 L493.10,892.14 L493.50,900.50 L494.50,882.80 L495.70,883.50 L497.40,894.60 L498.30,877.30 L499.70,881.40" stroke="#983838" stroke-width="1.0" fill="none" stroke-linejoin="round"/>
<text x="441.6" y="810.7" class="pk">Co2p</text>
<text x="477.5" y="780.6" class="pl">(g)</text>
</svg>
</body></html>
